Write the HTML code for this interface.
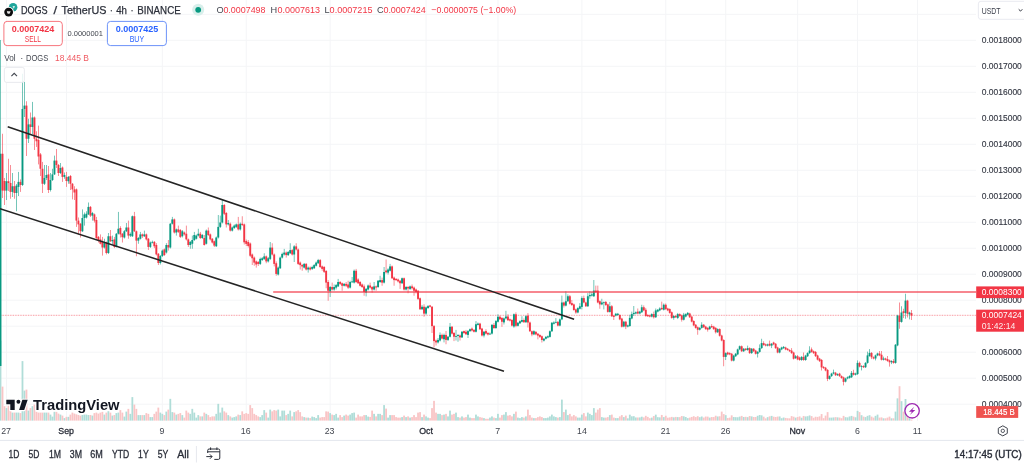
<!DOCTYPE html><html><head><meta charset="utf-8"><title>DOGS / TetherUS</title>
<style>html,body{margin:0;padding:0;background:#fff;overflow:hidden}svg{display:block;filter:blur(0.35px)}text{font-family:"Liberation Sans",sans-serif}</style></head><body>
<svg width="1024" height="466" viewBox="0 0 1024 466">
<rect width="1024" height="466" fill="#fff"/>
<g stroke="#f4f5f7" stroke-width="1">
<line x1="0" y1="14.33" x2="976" y2="14.33"/>
<line x1="0" y1="40.32" x2="976" y2="40.32"/>
<line x1="0" y1="66.31" x2="976" y2="66.31"/>
<line x1="0" y1="92.30" x2="976" y2="92.30"/>
<line x1="0" y1="118.29" x2="976" y2="118.29"/>
<line x1="0" y1="144.28" x2="976" y2="144.28"/>
<line x1="0" y1="170.27" x2="976" y2="170.27"/>
<line x1="0" y1="196.26" x2="976" y2="196.26"/>
<line x1="0" y1="222.25" x2="976" y2="222.25"/>
<line x1="0" y1="248.24" x2="976" y2="248.24"/>
<line x1="0" y1="274.23" x2="976" y2="274.23"/>
<line x1="0" y1="300.22" x2="976" y2="300.22"/>
<line x1="0" y1="326.21" x2="976" y2="326.21"/>
<line x1="0" y1="352.20" x2="976" y2="352.20"/>
<line x1="0" y1="378.19" x2="976" y2="378.19"/>
<line x1="0" y1="404.18" x2="976" y2="404.18"/>
<line x1="6.50" y1="0" x2="6.50" y2="421"/>
<line x1="66.44" y1="0" x2="66.44" y2="421"/>
<line x1="162.33" y1="0" x2="162.33" y2="421"/>
<line x1="246.24" y1="0" x2="246.24" y2="421"/>
<line x1="330.15" y1="0" x2="330.15" y2="421"/>
<line x1="426.05" y1="0" x2="426.05" y2="421"/>
<line x1="497.97" y1="0" x2="497.97" y2="421"/>
<line x1="581.88" y1="0" x2="581.88" y2="421"/>
<line x1="665.78" y1="0" x2="665.78" y2="421"/>
<line x1="725.72" y1="0" x2="725.72" y2="421"/>
<line x1="797.64" y1="0" x2="797.64" y2="421"/>
<line x1="857.58" y1="0" x2="857.58" y2="421"/>
<line x1="917.51" y1="0" x2="917.51" y2="421"/>
</g>
<g>
<rect x="-0.40" y="340.60" width="1.8" height="80.00" fill="#b0ddd8"/>
<rect x="1.60" y="386.60" width="1.8" height="34.00" fill="#f9c5c6"/>
<rect x="3.60" y="406.20" width="1.8" height="14.40" fill="#f9c5c6"/>
<rect x="5.59" y="408.10" width="1.8" height="12.50" fill="#b0ddd8"/>
<rect x="7.59" y="405.60" width="1.8" height="15.00" fill="#f9c5c6"/>
<rect x="9.59" y="411.20" width="1.8" height="9.40" fill="#f9c5c6"/>
<rect x="11.59" y="412.60" width="1.8" height="8.00" fill="#b0ddd8"/>
<rect x="13.58" y="412.60" width="1.8" height="8.00" fill="#f9c5c6"/>
<rect x="15.58" y="412.60" width="1.8" height="8.00" fill="#b0ddd8"/>
<rect x="17.58" y="412.60" width="1.8" height="8.00" fill="#b0ddd8"/>
<rect x="19.58" y="413.10" width="1.8" height="7.50" fill="#f9c5c6"/>
<rect x="21.58" y="361.10" width="1.8" height="59.50" fill="#b0ddd8"/>
<rect x="23.57" y="390.60" width="1.8" height="30.00" fill="#b0ddd8"/>
<rect x="25.57" y="389.60" width="1.8" height="31.00" fill="#f9c5c6"/>
<rect x="27.57" y="410.60" width="1.8" height="10.00" fill="#b0ddd8"/>
<rect x="29.57" y="408.10" width="1.8" height="12.50" fill="#f9c5c6"/>
<rect x="31.56" y="406.20" width="1.8" height="14.40" fill="#b0ddd8"/>
<rect x="33.56" y="404.60" width="1.8" height="16.00" fill="#f9c5c6"/>
<rect x="35.56" y="411.85" width="1.8" height="8.75" fill="#f9c5c6"/>
<rect x="37.56" y="412.60" width="1.8" height="8.00" fill="#f9c5c6"/>
<rect x="39.56" y="412.60" width="1.8" height="8.00" fill="#f9c5c6"/>
<rect x="41.55" y="412.60" width="1.8" height="8.00" fill="#f9c5c6"/>
<rect x="43.55" y="412.60" width="1.8" height="8.00" fill="#b0ddd8"/>
<rect x="45.55" y="412.60" width="1.8" height="8.00" fill="#b0ddd8"/>
<rect x="47.55" y="412.60" width="1.8" height="8.00" fill="#f9c5c6"/>
<rect x="49.55" y="414.60" width="1.8" height="6.00" fill="#b0ddd8"/>
<rect x="51.54" y="416.60" width="1.8" height="4.00" fill="#b0ddd8"/>
<rect x="53.54" y="411.85" width="1.8" height="8.75" fill="#b0ddd8"/>
<rect x="55.54" y="411.85" width="1.8" height="8.75" fill="#f9c5c6"/>
<rect x="57.54" y="413.60" width="1.8" height="7.00" fill="#f9c5c6"/>
<rect x="59.53" y="414.60" width="1.8" height="6.00" fill="#b0ddd8"/>
<rect x="61.53" y="415.60" width="1.8" height="5.00" fill="#f9c5c6"/>
<rect x="63.53" y="418.10" width="1.8" height="2.50" fill="#b0ddd8"/>
<rect x="65.53" y="416.85" width="1.8" height="3.75" fill="#f9c5c6"/>
<rect x="67.53" y="416.85" width="1.8" height="3.75" fill="#b0ddd8"/>
<rect x="69.52" y="414.60" width="1.8" height="6.00" fill="#f9c5c6"/>
<rect x="71.52" y="412.60" width="1.8" height="8.00" fill="#f9c5c6"/>
<rect x="73.52" y="413.60" width="1.8" height="7.00" fill="#f9c5c6"/>
<rect x="75.52" y="414.35" width="1.8" height="6.25" fill="#f9c5c6"/>
<rect x="77.51" y="415.00" width="1.8" height="5.60" fill="#f9c5c6"/>
<rect x="79.51" y="415.60" width="1.8" height="5.00" fill="#f9c5c6"/>
<rect x="81.51" y="415.00" width="1.8" height="5.60" fill="#b0ddd8"/>
<rect x="83.51" y="414.60" width="1.8" height="6.00" fill="#b0ddd8"/>
<rect x="85.51" y="414.60" width="1.8" height="6.00" fill="#b0ddd8"/>
<rect x="87.50" y="415.00" width="1.8" height="5.60" fill="#b0ddd8"/>
<rect x="89.50" y="415.00" width="1.8" height="5.60" fill="#f9c5c6"/>
<rect x="91.50" y="415.60" width="1.8" height="5.00" fill="#b0ddd8"/>
<rect x="93.50" y="413.10" width="1.8" height="7.50" fill="#f9c5c6"/>
<rect x="95.49" y="412.60" width="1.8" height="8.00" fill="#f9c5c6"/>
<rect x="97.49" y="413.60" width="1.8" height="7.00" fill="#f9c5c6"/>
<rect x="99.49" y="412.60" width="1.8" height="8.00" fill="#f9c5c6"/>
<rect x="101.49" y="411.85" width="1.8" height="8.75" fill="#f9c5c6"/>
<rect x="103.49" y="414.60" width="1.8" height="6.00" fill="#b0ddd8"/>
<rect x="105.48" y="412.60" width="1.8" height="8.00" fill="#f9c5c6"/>
<rect x="107.48" y="411.20" width="1.8" height="9.40" fill="#b0ddd8"/>
<rect x="109.48" y="412.60" width="1.8" height="8.00" fill="#f9c5c6"/>
<rect x="111.48" y="415.60" width="1.8" height="5.00" fill="#b0ddd8"/>
<rect x="113.47" y="415.00" width="1.8" height="5.60" fill="#f9c5c6"/>
<rect x="115.47" y="413.10" width="1.8" height="7.50" fill="#b0ddd8"/>
<rect x="117.47" y="412.60" width="1.8" height="8.00" fill="#b0ddd8"/>
<rect x="119.47" y="410.10" width="1.8" height="10.50" fill="#f9c5c6"/>
<rect x="121.47" y="412.60" width="1.8" height="8.00" fill="#f9c5c6"/>
<rect x="123.46" y="416.60" width="1.8" height="4.00" fill="#b0ddd8"/>
<rect x="125.46" y="411.60" width="1.8" height="9.00" fill="#b0ddd8"/>
<rect x="127.46" y="408.85" width="1.8" height="11.75" fill="#f9c5c6"/>
<rect x="129.46" y="413.85" width="1.8" height="6.75" fill="#b0ddd8"/>
<rect x="131.45" y="397.10" width="1.8" height="23.50" fill="#b0ddd8"/>
<rect x="133.45" y="404.60" width="1.8" height="16.00" fill="#f9c5c6"/>
<rect x="135.45" y="408.85" width="1.8" height="11.75" fill="#f9c5c6"/>
<rect x="137.45" y="415.10" width="1.8" height="5.50" fill="#b0ddd8"/>
<rect x="139.45" y="415.10" width="1.8" height="5.50" fill="#b0ddd8"/>
<rect x="141.44" y="415.10" width="1.8" height="5.50" fill="#f9c5c6"/>
<rect x="143.44" y="415.10" width="1.8" height="5.50" fill="#b0ddd8"/>
<rect x="145.44" y="413.10" width="1.8" height="7.50" fill="#f9c5c6"/>
<rect x="147.44" y="413.85" width="1.8" height="6.75" fill="#f9c5c6"/>
<rect x="149.44" y="417.10" width="1.8" height="3.50" fill="#b0ddd8"/>
<rect x="151.43" y="417.10" width="1.8" height="3.50" fill="#b0ddd8"/>
<rect x="153.43" y="413.85" width="1.8" height="6.75" fill="#f9c5c6"/>
<rect x="155.43" y="411.60" width="1.8" height="9.00" fill="#f9c5c6"/>
<rect x="157.43" y="407.60" width="1.8" height="13.00" fill="#f9c5c6"/>
<rect x="159.42" y="412.60" width="1.8" height="8.00" fill="#b0ddd8"/>
<rect x="161.42" y="413.85" width="1.8" height="6.75" fill="#b0ddd8"/>
<rect x="163.42" y="415.10" width="1.8" height="5.50" fill="#f9c5c6"/>
<rect x="165.42" y="411.60" width="1.8" height="9.00" fill="#b0ddd8"/>
<rect x="167.42" y="409.60" width="1.8" height="11.00" fill="#f9c5c6"/>
<rect x="169.41" y="398.85" width="1.8" height="21.75" fill="#b0ddd8"/>
<rect x="171.41" y="412.10" width="1.8" height="8.50" fill="#b0ddd8"/>
<rect x="173.41" y="412.60" width="1.8" height="8.00" fill="#f9c5c6"/>
<rect x="175.41" y="414.60" width="1.8" height="6.00" fill="#b0ddd8"/>
<rect x="177.40" y="413.85" width="1.8" height="6.75" fill="#f9c5c6"/>
<rect x="179.40" y="413.10" width="1.8" height="7.50" fill="#f9c5c6"/>
<rect x="181.40" y="415.10" width="1.8" height="5.50" fill="#b0ddd8"/>
<rect x="183.40" y="417.60" width="1.8" height="3.00" fill="#f9c5c6"/>
<rect x="185.40" y="410.60" width="1.8" height="10.00" fill="#f9c5c6"/>
<rect x="187.39" y="412.60" width="1.8" height="8.00" fill="#f9c5c6"/>
<rect x="189.39" y="413.85" width="1.8" height="6.75" fill="#b0ddd8"/>
<rect x="191.39" y="408.85" width="1.8" height="11.75" fill="#b0ddd8"/>
<rect x="193.39" y="412.60" width="1.8" height="8.00" fill="#b0ddd8"/>
<rect x="195.38" y="417.60" width="1.8" height="3.00" fill="#b0ddd8"/>
<rect x="197.38" y="415.10" width="1.8" height="5.50" fill="#b0ddd8"/>
<rect x="199.38" y="416.40" width="1.8" height="4.20" fill="#f9c5c6"/>
<rect x="201.38" y="416.40" width="1.8" height="4.20" fill="#b0ddd8"/>
<rect x="203.38" y="412.60" width="1.8" height="8.00" fill="#f9c5c6"/>
<rect x="205.37" y="413.85" width="1.8" height="6.75" fill="#b0ddd8"/>
<rect x="207.37" y="415.10" width="1.8" height="5.50" fill="#f9c5c6"/>
<rect x="209.37" y="417.10" width="1.8" height="3.50" fill="#f9c5c6"/>
<rect x="211.37" y="416.40" width="1.8" height="4.20" fill="#f9c5c6"/>
<rect x="213.36" y="416.40" width="1.8" height="4.20" fill="#f9c5c6"/>
<rect x="215.36" y="413.85" width="1.8" height="6.75" fill="#b0ddd8"/>
<rect x="217.36" y="403.85" width="1.8" height="16.75" fill="#b0ddd8"/>
<rect x="219.36" y="412.60" width="1.8" height="8.00" fill="#b0ddd8"/>
<rect x="221.36" y="407.60" width="1.8" height="13.00" fill="#b0ddd8"/>
<rect x="223.35" y="411.35" width="1.8" height="9.25" fill="#f9c5c6"/>
<rect x="225.35" y="412.60" width="1.8" height="8.00" fill="#f9c5c6"/>
<rect x="227.35" y="415.10" width="1.8" height="5.50" fill="#b0ddd8"/>
<rect x="229.35" y="416.40" width="1.8" height="4.20" fill="#f9c5c6"/>
<rect x="231.34" y="417.60" width="1.8" height="3.00" fill="#b0ddd8"/>
<rect x="233.34" y="417.10" width="1.8" height="3.50" fill="#b0ddd8"/>
<rect x="235.34" y="416.40" width="1.8" height="4.20" fill="#b0ddd8"/>
<rect x="237.34" y="414.60" width="1.8" height="6.00" fill="#f9c5c6"/>
<rect x="239.34" y="415.10" width="1.8" height="5.50" fill="#b0ddd8"/>
<rect x="241.33" y="411.35" width="1.8" height="9.25" fill="#f9c5c6"/>
<rect x="243.33" y="413.85" width="1.8" height="6.75" fill="#f9c5c6"/>
<rect x="245.33" y="413.10" width="1.8" height="7.50" fill="#f9c5c6"/>
<rect x="247.33" y="413.85" width="1.8" height="6.75" fill="#f9c5c6"/>
<rect x="249.32" y="405.10" width="1.8" height="15.50" fill="#f9c5c6"/>
<rect x="251.32" y="408.10" width="1.8" height="12.50" fill="#f9c5c6"/>
<rect x="253.32" y="413.85" width="1.8" height="6.75" fill="#f9c5c6"/>
<rect x="255.32" y="415.10" width="1.8" height="5.50" fill="#f9c5c6"/>
<rect x="257.32" y="416.40" width="1.8" height="4.20" fill="#f9c5c6"/>
<rect x="259.31" y="417.10" width="1.8" height="3.50" fill="#b0ddd8"/>
<rect x="261.31" y="415.10" width="1.8" height="5.50" fill="#b0ddd8"/>
<rect x="263.31" y="410.10" width="1.8" height="10.50" fill="#b0ddd8"/>
<rect x="265.31" y="412.60" width="1.8" height="8.00" fill="#f9c5c6"/>
<rect x="267.31" y="417.60" width="1.8" height="3.00" fill="#b0ddd8"/>
<rect x="269.30" y="409.60" width="1.8" height="11.00" fill="#b0ddd8"/>
<rect x="271.30" y="411.35" width="1.8" height="9.25" fill="#f9c5c6"/>
<rect x="273.30" y="410.10" width="1.8" height="10.50" fill="#f9c5c6"/>
<rect x="275.30" y="410.60" width="1.8" height="10.00" fill="#f9c5c6"/>
<rect x="277.29" y="409.60" width="1.8" height="11.00" fill="#b0ddd8"/>
<rect x="279.29" y="416.40" width="1.8" height="4.20" fill="#b0ddd8"/>
<rect x="281.29" y="410.60" width="1.8" height="10.00" fill="#b0ddd8"/>
<rect x="283.29" y="410.60" width="1.8" height="10.00" fill="#b0ddd8"/>
<rect x="285.29" y="415.10" width="1.8" height="5.50" fill="#f9c5c6"/>
<rect x="287.28" y="413.85" width="1.8" height="6.75" fill="#b0ddd8"/>
<rect x="289.28" y="410.60" width="1.8" height="10.00" fill="#b0ddd8"/>
<rect x="291.28" y="416.40" width="1.8" height="4.20" fill="#f9c5c6"/>
<rect x="293.28" y="412.10" width="1.8" height="8.50" fill="#b0ddd8"/>
<rect x="295.27" y="411.35" width="1.8" height="9.25" fill="#f9c5c6"/>
<rect x="297.27" y="410.10" width="1.8" height="10.50" fill="#f9c5c6"/>
<rect x="299.27" y="412.10" width="1.8" height="8.50" fill="#f9c5c6"/>
<rect x="301.27" y="416.40" width="1.8" height="4.20" fill="#f9c5c6"/>
<rect x="303.27" y="417.10" width="1.8" height="3.50" fill="#b0ddd8"/>
<rect x="305.26" y="417.60" width="1.8" height="3.00" fill="#f9c5c6"/>
<rect x="307.26" y="417.60" width="1.8" height="3.00" fill="#b0ddd8"/>
<rect x="309.26" y="418.10" width="1.8" height="2.50" fill="#f9c5c6"/>
<rect x="311.26" y="416.60" width="1.8" height="4.00" fill="#b0ddd8"/>
<rect x="313.25" y="417.10" width="1.8" height="3.50" fill="#b0ddd8"/>
<rect x="315.25" y="418.10" width="1.8" height="2.50" fill="#b0ddd8"/>
<rect x="317.25" y="415.10" width="1.8" height="5.50" fill="#b0ddd8"/>
<rect x="319.25" y="417.60" width="1.8" height="3.00" fill="#f9c5c6"/>
<rect x="321.25" y="417.10" width="1.8" height="3.50" fill="#f9c5c6"/>
<rect x="323.24" y="417.10" width="1.8" height="3.50" fill="#f9c5c6"/>
<rect x="325.24" y="411.35" width="1.8" height="9.25" fill="#f9c5c6"/>
<rect x="327.24" y="411.60" width="1.8" height="9.00" fill="#f9c5c6"/>
<rect x="329.24" y="413.10" width="1.8" height="7.50" fill="#b0ddd8"/>
<rect x="331.23" y="414.60" width="1.8" height="6.00" fill="#f9c5c6"/>
<rect x="333.23" y="415.10" width="1.8" height="5.50" fill="#b0ddd8"/>
<rect x="335.23" y="413.85" width="1.8" height="6.75" fill="#b0ddd8"/>
<rect x="337.23" y="417.60" width="1.8" height="3.00" fill="#b0ddd8"/>
<rect x="339.23" y="415.10" width="1.8" height="5.50" fill="#f9c5c6"/>
<rect x="341.22" y="417.10" width="1.8" height="3.50" fill="#f9c5c6"/>
<rect x="343.22" y="415.60" width="1.8" height="5.00" fill="#b0ddd8"/>
<rect x="345.22" y="414.60" width="1.8" height="6.00" fill="#f9c5c6"/>
<rect x="347.22" y="415.60" width="1.8" height="5.00" fill="#f9c5c6"/>
<rect x="349.22" y="414.60" width="1.8" height="6.00" fill="#b0ddd8"/>
<rect x="351.21" y="413.10" width="1.8" height="7.50" fill="#b0ddd8"/>
<rect x="353.21" y="412.60" width="1.8" height="8.00" fill="#b0ddd8"/>
<rect x="355.21" y="417.60" width="1.8" height="3.00" fill="#f9c5c6"/>
<rect x="357.21" y="414.60" width="1.8" height="6.00" fill="#f9c5c6"/>
<rect x="359.20" y="416.40" width="1.8" height="4.20" fill="#f9c5c6"/>
<rect x="361.20" y="416.40" width="1.8" height="4.20" fill="#f9c5c6"/>
<rect x="363.20" y="415.10" width="1.8" height="5.50" fill="#f9c5c6"/>
<rect x="365.20" y="415.10" width="1.8" height="5.50" fill="#b0ddd8"/>
<rect x="367.20" y="416.60" width="1.8" height="4.00" fill="#b0ddd8"/>
<rect x="369.19" y="416.91" width="1.8" height="3.69" fill="#f9c5c6"/>
<rect x="371.19" y="410.60" width="1.8" height="10.00" fill="#f9c5c6"/>
<rect x="373.19" y="413.85" width="1.8" height="6.75" fill="#b0ddd8"/>
<rect x="375.19" y="416.40" width="1.8" height="4.20" fill="#f9c5c6"/>
<rect x="377.18" y="413.85" width="1.8" height="6.75" fill="#b0ddd8"/>
<rect x="379.18" y="413.85" width="1.8" height="6.75" fill="#b0ddd8"/>
<rect x="381.18" y="415.10" width="1.8" height="5.50" fill="#f9c5c6"/>
<rect x="383.18" y="405.10" width="1.8" height="15.50" fill="#b0ddd8"/>
<rect x="385.18" y="408.60" width="1.8" height="12.00" fill="#f9c5c6"/>
<rect x="387.17" y="417.60" width="1.8" height="3.00" fill="#b0ddd8"/>
<rect x="389.17" y="415.10" width="1.8" height="5.50" fill="#b0ddd8"/>
<rect x="391.17" y="415.10" width="1.8" height="5.50" fill="#f9c5c6"/>
<rect x="393.17" y="415.10" width="1.8" height="5.50" fill="#f9c5c6"/>
<rect x="395.16" y="417.10" width="1.8" height="3.50" fill="#f9c5c6"/>
<rect x="397.16" y="417.60" width="1.8" height="3.00" fill="#f9c5c6"/>
<rect x="399.16" y="417.60" width="1.8" height="3.00" fill="#f9c5c6"/>
<rect x="401.16" y="417.10" width="1.8" height="3.50" fill="#b0ddd8"/>
<rect x="403.16" y="415.60" width="1.8" height="5.00" fill="#f9c5c6"/>
<rect x="405.15" y="417.10" width="1.8" height="3.50" fill="#b0ddd8"/>
<rect x="407.15" y="416.40" width="1.8" height="4.20" fill="#f9c5c6"/>
<rect x="409.15" y="417.60" width="1.8" height="3.00" fill="#b0ddd8"/>
<rect x="411.15" y="417.10" width="1.8" height="3.50" fill="#f9c5c6"/>
<rect x="413.14" y="415.10" width="1.8" height="5.50" fill="#f9c5c6"/>
<rect x="415.14" y="417.10" width="1.8" height="3.50" fill="#f9c5c6"/>
<rect x="417.14" y="412.60" width="1.8" height="8.00" fill="#f9c5c6"/>
<rect x="419.14" y="412.10" width="1.8" height="8.50" fill="#f9c5c6"/>
<rect x="421.14" y="417.10" width="1.8" height="3.50" fill="#b0ddd8"/>
<rect x="423.13" y="414.60" width="1.8" height="6.00" fill="#f9c5c6"/>
<rect x="425.13" y="416.40" width="1.8" height="4.20" fill="#b0ddd8"/>
<rect x="427.13" y="417.60" width="1.8" height="3.00" fill="#b0ddd8"/>
<rect x="429.13" y="418.10" width="1.8" height="2.50" fill="#f9c5c6"/>
<rect x="431.12" y="408.10" width="1.8" height="12.50" fill="#f9c5c6"/>
<rect x="433.12" y="400.85" width="1.8" height="19.75" fill="#f9c5c6"/>
<rect x="435.12" y="412.60" width="1.8" height="8.00" fill="#f9c5c6"/>
<rect x="437.12" y="413.85" width="1.8" height="6.75" fill="#b0ddd8"/>
<rect x="439.12" y="413.85" width="1.8" height="6.75" fill="#b0ddd8"/>
<rect x="441.11" y="415.10" width="1.8" height="5.50" fill="#f9c5c6"/>
<rect x="443.11" y="414.60" width="1.8" height="6.00" fill="#b0ddd8"/>
<rect x="445.11" y="413.85" width="1.8" height="6.75" fill="#f9c5c6"/>
<rect x="447.11" y="416.40" width="1.8" height="4.20" fill="#b0ddd8"/>
<rect x="449.11" y="410.60" width="1.8" height="10.00" fill="#b0ddd8"/>
<rect x="451.10" y="414.60" width="1.8" height="6.00" fill="#f9c5c6"/>
<rect x="453.10" y="413.85" width="1.8" height="6.75" fill="#f9c5c6"/>
<rect x="455.10" y="412.60" width="1.8" height="8.00" fill="#b0ddd8"/>
<rect x="457.10" y="417.10" width="1.8" height="3.50" fill="#b0ddd8"/>
<rect x="459.09" y="417.60" width="1.8" height="3.00" fill="#f9c5c6"/>
<rect x="461.09" y="416.40" width="1.8" height="4.20" fill="#b0ddd8"/>
<rect x="463.09" y="417.60" width="1.8" height="3.00" fill="#f9c5c6"/>
<rect x="465.09" y="417.10" width="1.8" height="3.50" fill="#f9c5c6"/>
<rect x="467.09" y="414.60" width="1.8" height="6.00" fill="#b0ddd8"/>
<rect x="469.08" y="417.60" width="1.8" height="3.00" fill="#b0ddd8"/>
<rect x="471.08" y="418.10" width="1.8" height="2.50" fill="#f9c5c6"/>
<rect x="473.08" y="418.10" width="1.8" height="2.50" fill="#f9c5c6"/>
<rect x="475.08" y="414.60" width="1.8" height="6.00" fill="#b0ddd8"/>
<rect x="477.07" y="416.40" width="1.8" height="4.20" fill="#b0ddd8"/>
<rect x="479.07" y="417.10" width="1.8" height="3.50" fill="#f9c5c6"/>
<rect x="481.07" y="417.60" width="1.8" height="3.00" fill="#f9c5c6"/>
<rect x="483.07" y="418.10" width="1.8" height="2.50" fill="#b0ddd8"/>
<rect x="485.07" y="418.80" width="1.8" height="1.80" fill="#f9c5c6"/>
<rect x="487.06" y="418.80" width="1.8" height="1.80" fill="#f9c5c6"/>
<rect x="489.06" y="417.60" width="1.8" height="3.00" fill="#b0ddd8"/>
<rect x="491.06" y="416.40" width="1.8" height="4.20" fill="#b0ddd8"/>
<rect x="493.06" y="417.60" width="1.8" height="3.00" fill="#f9c5c6"/>
<rect x="495.05" y="418.10" width="1.8" height="2.50" fill="#b0ddd8"/>
<rect x="497.05" y="413.85" width="1.8" height="6.75" fill="#b0ddd8"/>
<rect x="499.05" y="417.60" width="1.8" height="3.00" fill="#f9c5c6"/>
<rect x="501.05" y="415.10" width="1.8" height="5.50" fill="#f9c5c6"/>
<rect x="503.05" y="414.60" width="1.8" height="6.00" fill="#b0ddd8"/>
<rect x="505.04" y="412.10" width="1.8" height="8.50" fill="#b0ddd8"/>
<rect x="507.04" y="415.60" width="1.8" height="5.00" fill="#f9c5c6"/>
<rect x="509.04" y="415.10" width="1.8" height="5.50" fill="#f9c5c6"/>
<rect x="511.04" y="416.40" width="1.8" height="4.20" fill="#f9c5c6"/>
<rect x="513.03" y="413.85" width="1.8" height="6.75" fill="#b0ddd8"/>
<rect x="515.03" y="411.60" width="1.8" height="9.00" fill="#f9c5c6"/>
<rect x="517.03" y="417.60" width="1.8" height="3.00" fill="#b0ddd8"/>
<rect x="519.03" y="418.10" width="1.8" height="2.50" fill="#b0ddd8"/>
<rect x="521.03" y="417.10" width="1.8" height="3.50" fill="#b0ddd8"/>
<rect x="523.02" y="417.60" width="1.8" height="3.00" fill="#f9c5c6"/>
<rect x="525.02" y="416.40" width="1.8" height="4.20" fill="#b0ddd8"/>
<rect x="527.02" y="409.60" width="1.8" height="11.00" fill="#f9c5c6"/>
<rect x="529.02" y="415.10" width="1.8" height="5.50" fill="#f9c5c6"/>
<rect x="531.01" y="417.60" width="1.8" height="3.00" fill="#f9c5c6"/>
<rect x="533.01" y="418.10" width="1.8" height="2.50" fill="#b0ddd8"/>
<rect x="535.01" y="418.10" width="1.8" height="2.50" fill="#f9c5c6"/>
<rect x="537.01" y="417.10" width="1.8" height="3.50" fill="#f9c5c6"/>
<rect x="539.01" y="416.40" width="1.8" height="4.20" fill="#f9c5c6"/>
<rect x="541.00" y="417.10" width="1.8" height="3.50" fill="#f9c5c6"/>
<rect x="543.00" y="418.10" width="1.8" height="2.50" fill="#b0ddd8"/>
<rect x="545.00" y="418.10" width="1.8" height="2.50" fill="#b0ddd8"/>
<rect x="547.00" y="417.60" width="1.8" height="3.00" fill="#b0ddd8"/>
<rect x="549.00" y="416.40" width="1.8" height="4.20" fill="#b0ddd8"/>
<rect x="550.99" y="414.60" width="1.8" height="6.00" fill="#b0ddd8"/>
<rect x="552.99" y="416.40" width="1.8" height="4.20" fill="#b0ddd8"/>
<rect x="554.99" y="417.10" width="1.8" height="3.50" fill="#b0ddd8"/>
<rect x="556.99" y="417.60" width="1.8" height="3.00" fill="#f9c5c6"/>
<rect x="558.98" y="417.10" width="1.8" height="3.50" fill="#b0ddd8"/>
<rect x="560.98" y="399.60" width="1.8" height="21.00" fill="#b0ddd8"/>
<rect x="562.98" y="412.10" width="1.8" height="8.50" fill="#f9c5c6"/>
<rect x="564.98" y="409.60" width="1.8" height="11.00" fill="#b0ddd8"/>
<rect x="566.98" y="415.10" width="1.8" height="5.50" fill="#b0ddd8"/>
<rect x="568.97" y="413.85" width="1.8" height="6.75" fill="#f9c5c6"/>
<rect x="570.97" y="416.40" width="1.8" height="4.20" fill="#f9c5c6"/>
<rect x="572.97" y="415.10" width="1.8" height="5.50" fill="#f9c5c6"/>
<rect x="574.97" y="416.40" width="1.8" height="4.20" fill="#f9c5c6"/>
<rect x="576.96" y="417.60" width="1.8" height="3.00" fill="#b0ddd8"/>
<rect x="578.96" y="417.60" width="1.8" height="3.00" fill="#b0ddd8"/>
<rect x="580.96" y="414.60" width="1.8" height="6.00" fill="#b0ddd8"/>
<rect x="582.96" y="413.10" width="1.8" height="7.50" fill="#f9c5c6"/>
<rect x="584.96" y="416.40" width="1.8" height="4.20" fill="#f9c5c6"/>
<rect x="586.95" y="412.60" width="1.8" height="8.00" fill="#b0ddd8"/>
<rect x="588.95" y="413.85" width="1.8" height="6.75" fill="#b0ddd8"/>
<rect x="590.95" y="415.10" width="1.8" height="5.50" fill="#b0ddd8"/>
<rect x="592.95" y="408.10" width="1.8" height="12.50" fill="#b0ddd8"/>
<rect x="594.94" y="412.60" width="1.8" height="8.00" fill="#f9c5c6"/>
<rect x="596.94" y="409.60" width="1.8" height="11.00" fill="#f9c5c6"/>
<rect x="598.94" y="408.10" width="1.8" height="12.50" fill="#f9c5c6"/>
<rect x="600.94" y="417.10" width="1.8" height="3.50" fill="#b0ddd8"/>
<rect x="602.94" y="417.60" width="1.8" height="3.00" fill="#b0ddd8"/>
<rect x="604.93" y="417.60" width="1.8" height="3.00" fill="#f9c5c6"/>
<rect x="606.93" y="417.10" width="1.8" height="3.50" fill="#f9c5c6"/>
<rect x="608.93" y="415.10" width="1.8" height="5.50" fill="#b0ddd8"/>
<rect x="610.93" y="414.60" width="1.8" height="6.00" fill="#f9c5c6"/>
<rect x="612.92" y="417.60" width="1.8" height="3.00" fill="#f9c5c6"/>
<rect x="614.92" y="418.10" width="1.8" height="2.50" fill="#b0ddd8"/>
<rect x="616.92" y="418.10" width="1.8" height="2.50" fill="#b0ddd8"/>
<rect x="618.92" y="416.40" width="1.8" height="4.20" fill="#f9c5c6"/>
<rect x="620.92" y="415.10" width="1.8" height="5.50" fill="#f9c5c6"/>
<rect x="622.91" y="417.09" width="1.8" height="3.51" fill="#b0ddd8"/>
<rect x="624.91" y="415.60" width="1.8" height="5.00" fill="#f9c5c6"/>
<rect x="626.91" y="418.32" width="1.8" height="2.28" fill="#b0ddd8"/>
<rect x="628.91" y="414.67" width="1.8" height="5.93" fill="#b0ddd8"/>
<rect x="630.90" y="416.30" width="1.8" height="4.30" fill="#b0ddd8"/>
<rect x="632.90" y="416.19" width="1.8" height="4.41" fill="#b0ddd8"/>
<rect x="634.90" y="417.47" width="1.8" height="3.13" fill="#b0ddd8"/>
<rect x="636.90" y="417.49" width="1.8" height="3.11" fill="#f9c5c6"/>
<rect x="638.90" y="417.43" width="1.8" height="3.17" fill="#b0ddd8"/>
<rect x="640.89" y="416.69" width="1.8" height="3.91" fill="#b0ddd8"/>
<rect x="642.89" y="417.39" width="1.8" height="3.21" fill="#f9c5c6"/>
<rect x="644.89" y="415.82" width="1.8" height="4.78" fill="#f9c5c6"/>
<rect x="646.89" y="416.89" width="1.8" height="3.71" fill="#f9c5c6"/>
<rect x="648.88" y="418.22" width="1.8" height="2.38" fill="#f9c5c6"/>
<rect x="650.88" y="417.65" width="1.8" height="2.95" fill="#b0ddd8"/>
<rect x="652.88" y="416.04" width="1.8" height="4.56" fill="#f9c5c6"/>
<rect x="654.88" y="414.65" width="1.8" height="5.95" fill="#b0ddd8"/>
<rect x="656.88" y="417.18" width="1.8" height="3.42" fill="#b0ddd8"/>
<rect x="658.87" y="417.36" width="1.8" height="3.24" fill="#b0ddd8"/>
<rect x="660.87" y="414.93" width="1.8" height="5.67" fill="#f9c5c6"/>
<rect x="662.87" y="417.11" width="1.8" height="3.49" fill="#b0ddd8"/>
<rect x="664.87" y="415.75" width="1.8" height="4.85" fill="#f9c5c6"/>
<rect x="666.87" y="417.70" width="1.8" height="2.90" fill="#f9c5c6"/>
<rect x="668.86" y="417.41" width="1.8" height="3.19" fill="#f9c5c6"/>
<rect x="670.86" y="416.89" width="1.8" height="3.71" fill="#f9c5c6"/>
<rect x="672.86" y="417.35" width="1.8" height="3.25" fill="#b0ddd8"/>
<rect x="674.86" y="416.91" width="1.8" height="3.69" fill="#f9c5c6"/>
<rect x="676.85" y="417.10" width="1.8" height="3.50" fill="#b0ddd8"/>
<rect x="678.85" y="417.14" width="1.8" height="3.46" fill="#f9c5c6"/>
<rect x="680.85" y="415.99" width="1.8" height="4.61" fill="#f9c5c6"/>
<rect x="682.85" y="416.31" width="1.8" height="4.29" fill="#b0ddd8"/>
<rect x="684.85" y="417.03" width="1.8" height="3.57" fill="#b0ddd8"/>
<rect x="686.84" y="418.13" width="1.8" height="2.47" fill="#b0ddd8"/>
<rect x="688.84" y="417.60" width="1.8" height="3.00" fill="#f9c5c6"/>
<rect x="690.84" y="416.93" width="1.8" height="3.67" fill="#f9c5c6"/>
<rect x="692.84" y="416.21" width="1.8" height="4.39" fill="#f9c5c6"/>
<rect x="694.83" y="417.08" width="1.8" height="3.52" fill="#f9c5c6"/>
<rect x="696.83" y="416.20" width="1.8" height="4.40" fill="#f9c5c6"/>
<rect x="698.83" y="417.17" width="1.8" height="3.43" fill="#b0ddd8"/>
<rect x="700.83" y="416.50" width="1.8" height="4.10" fill="#b0ddd8"/>
<rect x="702.83" y="417.53" width="1.8" height="3.07" fill="#f9c5c6"/>
<rect x="704.82" y="416.56" width="1.8" height="4.04" fill="#f9c5c6"/>
<rect x="706.82" y="416.62" width="1.8" height="3.98" fill="#f9c5c6"/>
<rect x="708.82" y="417.61" width="1.8" height="2.99" fill="#b0ddd8"/>
<rect x="710.82" y="417.04" width="1.8" height="3.56" fill="#f9c5c6"/>
<rect x="712.81" y="417.07" width="1.8" height="3.53" fill="#f9c5c6"/>
<rect x="714.81" y="415.72" width="1.8" height="4.88" fill="#f9c5c6"/>
<rect x="716.81" y="416.50" width="1.8" height="4.10" fill="#b0ddd8"/>
<rect x="718.81" y="416.26" width="1.8" height="4.34" fill="#f9c5c6"/>
<rect x="720.81" y="411.60" width="1.8" height="9.00" fill="#f9c5c6"/>
<rect x="722.80" y="414.10" width="1.8" height="6.50" fill="#f9c5c6"/>
<rect x="724.80" y="415.13" width="1.8" height="5.47" fill="#b0ddd8"/>
<rect x="726.80" y="418.03" width="1.8" height="2.57" fill="#f9c5c6"/>
<rect x="728.80" y="417.64" width="1.8" height="2.96" fill="#f9c5c6"/>
<rect x="730.79" y="415.34" width="1.8" height="5.26" fill="#f9c5c6"/>
<rect x="732.79" y="417.03" width="1.8" height="3.57" fill="#b0ddd8"/>
<rect x="734.79" y="417.17" width="1.8" height="3.43" fill="#b0ddd8"/>
<rect x="736.79" y="417.25" width="1.8" height="3.35" fill="#b0ddd8"/>
<rect x="738.79" y="416.62" width="1.8" height="3.98" fill="#b0ddd8"/>
<rect x="740.78" y="415.90" width="1.8" height="4.70" fill="#f9c5c6"/>
<rect x="742.78" y="417.01" width="1.8" height="3.59" fill="#b0ddd8"/>
<rect x="744.78" y="416.80" width="1.8" height="3.80" fill="#f9c5c6"/>
<rect x="746.78" y="417.14" width="1.8" height="3.46" fill="#b0ddd8"/>
<rect x="748.77" y="416.00" width="1.8" height="4.60" fill="#f9c5c6"/>
<rect x="750.77" y="416.40" width="1.8" height="4.20" fill="#b0ddd8"/>
<rect x="752.77" y="417.00" width="1.8" height="3.60" fill="#f9c5c6"/>
<rect x="754.77" y="417.02" width="1.8" height="3.58" fill="#f9c5c6"/>
<rect x="756.77" y="415.78" width="1.8" height="4.82" fill="#b0ddd8"/>
<rect x="758.76" y="415.02" width="1.8" height="5.58" fill="#b0ddd8"/>
<rect x="760.76" y="415.35" width="1.8" height="5.25" fill="#b0ddd8"/>
<rect x="762.76" y="416.67" width="1.8" height="3.93" fill="#f9c5c6"/>
<rect x="764.76" y="418.34" width="1.8" height="2.26" fill="#f9c5c6"/>
<rect x="766.76" y="417.13" width="1.8" height="3.47" fill="#b0ddd8"/>
<rect x="768.75" y="416.33" width="1.8" height="4.27" fill="#f9c5c6"/>
<rect x="770.75" y="415.88" width="1.8" height="4.72" fill="#b0ddd8"/>
<rect x="772.75" y="416.69" width="1.8" height="3.91" fill="#f9c5c6"/>
<rect x="774.75" y="416.99" width="1.8" height="3.61" fill="#f9c5c6"/>
<rect x="776.74" y="416.59" width="1.8" height="4.01" fill="#f9c5c6"/>
<rect x="778.74" y="416.44" width="1.8" height="4.16" fill="#b0ddd8"/>
<rect x="780.74" y="418.21" width="1.8" height="2.39" fill="#b0ddd8"/>
<rect x="782.74" y="417.52" width="1.8" height="3.08" fill="#b0ddd8"/>
<rect x="784.74" y="417.93" width="1.8" height="2.67" fill="#f9c5c6"/>
<rect x="786.73" y="418.24" width="1.8" height="2.36" fill="#f9c5c6"/>
<rect x="788.73" y="418.35" width="1.8" height="2.25" fill="#f9c5c6"/>
<rect x="790.73" y="416.10" width="1.8" height="4.50" fill="#f9c5c6"/>
<rect x="792.73" y="416.71" width="1.8" height="3.89" fill="#f9c5c6"/>
<rect x="794.72" y="417.63" width="1.8" height="2.97" fill="#b0ddd8"/>
<rect x="796.72" y="417.00" width="1.8" height="3.60" fill="#f9c5c6"/>
<rect x="798.72" y="416.41" width="1.8" height="4.19" fill="#f9c5c6"/>
<rect x="800.72" y="417.74" width="1.8" height="2.86" fill="#b0ddd8"/>
<rect x="802.72" y="415.96" width="1.8" height="4.64" fill="#f9c5c6"/>
<rect x="804.71" y="416.46" width="1.8" height="4.14" fill="#b0ddd8"/>
<rect x="806.71" y="416.21" width="1.8" height="4.39" fill="#b0ddd8"/>
<rect x="808.71" y="415.45" width="1.8" height="5.15" fill="#b0ddd8"/>
<rect x="810.71" y="416.10" width="1.8" height="4.50" fill="#f9c5c6"/>
<rect x="812.70" y="417.75" width="1.8" height="2.85" fill="#f9c5c6"/>
<rect x="814.70" y="416.74" width="1.8" height="3.86" fill="#f9c5c6"/>
<rect x="816.70" y="416.91" width="1.8" height="3.69" fill="#f9c5c6"/>
<rect x="818.70" y="416.36" width="1.8" height="4.24" fill="#f9c5c6"/>
<rect x="820.70" y="414.06" width="1.8" height="6.54" fill="#f9c5c6"/>
<rect x="822.69" y="418.17" width="1.8" height="2.43" fill="#f9c5c6"/>
<rect x="824.69" y="415.60" width="1.8" height="5.00" fill="#f9c5c6"/>
<rect x="826.69" y="412.10" width="1.8" height="8.50" fill="#f9c5c6"/>
<rect x="828.69" y="417.65" width="1.8" height="2.95" fill="#b0ddd8"/>
<rect x="830.68" y="417.63" width="1.8" height="2.97" fill="#b0ddd8"/>
<rect x="832.68" y="417.42" width="1.8" height="3.18" fill="#b0ddd8"/>
<rect x="834.68" y="417.15" width="1.8" height="3.45" fill="#f9c5c6"/>
<rect x="836.68" y="417.37" width="1.8" height="3.23" fill="#b0ddd8"/>
<rect x="838.68" y="417.57" width="1.8" height="3.03" fill="#f9c5c6"/>
<rect x="840.67" y="418.24" width="1.8" height="2.36" fill="#f9c5c6"/>
<rect x="842.67" y="415.86" width="1.8" height="4.74" fill="#f9c5c6"/>
<rect x="844.67" y="417.19" width="1.8" height="3.41" fill="#b0ddd8"/>
<rect x="846.67" y="417.35" width="1.8" height="3.25" fill="#b0ddd8"/>
<rect x="848.67" y="416.44" width="1.8" height="4.16" fill="#b0ddd8"/>
<rect x="850.66" y="415.89" width="1.8" height="4.71" fill="#b0ddd8"/>
<rect x="852.66" y="416.60" width="1.8" height="4.00" fill="#f9c5c6"/>
<rect x="854.66" y="417.29" width="1.8" height="3.31" fill="#b0ddd8"/>
<rect x="856.66" y="410.85" width="1.8" height="9.75" fill="#b0ddd8"/>
<rect x="858.65" y="412.10" width="1.8" height="8.50" fill="#f9c5c6"/>
<rect x="860.65" y="415.20" width="1.8" height="5.40" fill="#b0ddd8"/>
<rect x="862.65" y="416.60" width="1.8" height="4.00" fill="#f9c5c6"/>
<rect x="864.65" y="417.10" width="1.8" height="3.50" fill="#b0ddd8"/>
<rect x="866.65" y="415.85" width="1.8" height="4.75" fill="#b0ddd8"/>
<rect x="868.64" y="415.20" width="1.8" height="5.40" fill="#b0ddd8"/>
<rect x="870.64" y="416.60" width="1.8" height="4.00" fill="#f9c5c6"/>
<rect x="872.64" y="417.60" width="1.8" height="3.00" fill="#f9c5c6"/>
<rect x="874.64" y="415.85" width="1.8" height="4.75" fill="#b0ddd8"/>
<rect x="876.63" y="414.60" width="1.8" height="6.00" fill="#b0ddd8"/>
<rect x="878.63" y="417.60" width="1.8" height="3.00" fill="#f9c5c6"/>
<rect x="880.63" y="417.40" width="1.8" height="3.20" fill="#f9c5c6"/>
<rect x="882.63" y="418.30" width="1.8" height="2.30" fill="#b0ddd8"/>
<rect x="884.63" y="418.30" width="1.8" height="2.30" fill="#f9c5c6"/>
<rect x="886.62" y="417.60" width="1.8" height="3.00" fill="#f9c5c6"/>
<rect x="888.62" y="416.60" width="1.8" height="4.00" fill="#f9c5c6"/>
<rect x="890.62" y="418.30" width="1.8" height="2.30" fill="#b0ddd8"/>
<rect x="892.62" y="418.30" width="1.8" height="2.30" fill="#f9c5c6"/>
<rect x="894.61" y="411.60" width="1.8" height="9.00" fill="#b0ddd8"/>
<rect x="896.61" y="398.35" width="1.8" height="22.25" fill="#b0ddd8"/>
<rect x="898.61" y="386.20" width="1.8" height="34.40" fill="#f9c5c6"/>
<rect x="900.61" y="401.20" width="1.8" height="19.40" fill="#b0ddd8"/>
<rect x="902.61" y="411.60" width="1.8" height="9.00" fill="#f9c5c6"/>
<rect x="904.60" y="399.00" width="1.8" height="21.60" fill="#b0ddd8"/>
<rect x="906.60" y="414.60" width="1.8" height="6.00" fill="#f9c5c6"/>
<rect x="908.60" y="418.10" width="1.8" height="2.50" fill="#b0ddd8"/>
<rect x="910.60" y="419.60" width="1.8" height="1.00" fill="#f9c5c6"/>
</g>
<line x1="0" y1="315.3" x2="976" y2="315.3" stroke="#f23645" stroke-width="0.8" stroke-dasharray="0.8 0.85" opacity="0.75"/>
<g>
<rect x="0.10" y="40.00" width="0.8" height="326.00" fill="#089981" opacity="0.7"/>
<rect x="-0.45" y="153.75" width="1.9" height="212.25" fill="#089981"/>
<rect x="2.10" y="133.75" width="0.8" height="64.25" fill="#f23645" opacity="0.7"/>
<rect x="1.55" y="153.75" width="1.9" height="36.85" fill="#f23645"/>
<rect x="4.10" y="178.00" width="0.8" height="27.00" fill="#f23645" opacity="0.7"/>
<rect x="3.55" y="181.00" width="1.9" height="9.60" fill="#f23645"/>
<rect x="6.09" y="173.00" width="0.8" height="27.00" fill="#089981" opacity="0.7"/>
<rect x="5.54" y="181.25" width="1.9" height="9.35" fill="#089981"/>
<rect x="8.09" y="158.75" width="0.8" height="32.25" fill="#f23645" opacity="0.7"/>
<rect x="7.54" y="181.25" width="1.9" height="1.75" fill="#f23645"/>
<rect x="10.09" y="165.00" width="0.8" height="33.75" fill="#f23645" opacity="0.7"/>
<rect x="9.54" y="183.00" width="1.9" height="8.90" fill="#f23645"/>
<rect x="12.09" y="173.00" width="0.8" height="24.00" fill="#089981" opacity="0.7"/>
<rect x="11.54" y="186.25" width="1.9" height="5.65" fill="#089981"/>
<rect x="14.08" y="181.00" width="0.8" height="17.75" fill="#f23645" opacity="0.7"/>
<rect x="13.53" y="186.25" width="1.9" height="6.75" fill="#f23645"/>
<rect x="16.08" y="184.00" width="0.8" height="27.25" fill="#089981" opacity="0.7"/>
<rect x="15.53" y="185.60" width="1.9" height="7.40" fill="#089981"/>
<rect x="18.08" y="171.90" width="0.8" height="24.10" fill="#089981" opacity="0.7"/>
<rect x="17.53" y="181.90" width="1.9" height="5.00" fill="#089981"/>
<rect x="20.08" y="179.40" width="0.8" height="12.50" fill="#f23645" opacity="0.7"/>
<rect x="19.53" y="181.90" width="1.9" height="3.10" fill="#f23645"/>
<rect x="22.08" y="73.75" width="0.8" height="112.25" fill="#089981" opacity="0.7"/>
<rect x="21.53" y="109.00" width="1.9" height="76.00" fill="#089981"/>
<rect x="24.07" y="81.90" width="0.8" height="35.10" fill="#089981" opacity="0.7"/>
<rect x="23.52" y="105.60" width="1.9" height="3.40" fill="#089981"/>
<rect x="26.07" y="101.25" width="0.8" height="54.75" fill="#f23645" opacity="0.7"/>
<rect x="25.52" y="105.60" width="1.9" height="33.15" fill="#f23645"/>
<rect x="28.07" y="118.75" width="0.8" height="24.25" fill="#089981" opacity="0.7"/>
<rect x="27.52" y="124.40" width="1.9" height="14.35" fill="#089981"/>
<rect x="30.07" y="112.50" width="0.8" height="21.25" fill="#f23645" opacity="0.7"/>
<rect x="29.52" y="124.40" width="1.9" height="2.60" fill="#f23645"/>
<rect x="32.06" y="101.90" width="0.8" height="32.10" fill="#089981" opacity="0.7"/>
<rect x="31.51" y="117.50" width="1.9" height="9.50" fill="#089981"/>
<rect x="34.06" y="116.50" width="0.8" height="33.50" fill="#f23645" opacity="0.7"/>
<rect x="33.51" y="117.50" width="1.9" height="21.25" fill="#f23645"/>
<rect x="36.06" y="131.25" width="0.8" height="15.65" fill="#f23645" opacity="0.7"/>
<rect x="35.51" y="138.75" width="1.9" height="2.50" fill="#f23645"/>
<rect x="38.06" y="125.60" width="0.8" height="38.80" fill="#f23645" opacity="0.7"/>
<rect x="37.51" y="140.00" width="1.9" height="16.50" fill="#f23645"/>
<rect x="40.06" y="153.00" width="0.8" height="23.00" fill="#f23645" opacity="0.7"/>
<rect x="39.51" y="154.40" width="1.9" height="14.35" fill="#f23645"/>
<rect x="42.05" y="161.90" width="0.8" height="31.10" fill="#f23645" opacity="0.7"/>
<rect x="41.50" y="168.75" width="1.9" height="15.00" fill="#f23645"/>
<rect x="44.05" y="165.00" width="0.8" height="20.00" fill="#089981" opacity="0.7"/>
<rect x="43.50" y="178.00" width="1.9" height="5.75" fill="#089981"/>
<rect x="46.05" y="165.00" width="0.8" height="15.00" fill="#089981" opacity="0.7"/>
<rect x="45.50" y="175.00" width="1.9" height="3.00" fill="#089981"/>
<rect x="48.05" y="166.00" width="0.8" height="27.00" fill="#f23645" opacity="0.7"/>
<rect x="47.50" y="174.40" width="1.9" height="15.60" fill="#f23645"/>
<rect x="50.05" y="173.00" width="0.8" height="18.50" fill="#089981" opacity="0.7"/>
<rect x="49.49" y="180.00" width="1.9" height="10.00" fill="#089981"/>
<rect x="52.04" y="168.75" width="0.8" height="12.25" fill="#089981" opacity="0.7"/>
<rect x="51.49" y="174.40" width="1.9" height="5.60" fill="#089981"/>
<rect x="54.04" y="155.60" width="0.8" height="19.40" fill="#089981" opacity="0.7"/>
<rect x="53.49" y="160.60" width="1.9" height="13.80" fill="#089981"/>
<rect x="56.04" y="149.00" width="0.8" height="19.00" fill="#f23645" opacity="0.7"/>
<rect x="55.49" y="160.60" width="1.9" height="4.40" fill="#f23645"/>
<rect x="58.04" y="164.00" width="0.8" height="12.00" fill="#f23645" opacity="0.7"/>
<rect x="57.49" y="165.00" width="1.9" height="8.00" fill="#f23645"/>
<rect x="60.03" y="163.00" width="0.8" height="11.00" fill="#089981" opacity="0.7"/>
<rect x="59.48" y="168.00" width="1.9" height="5.00" fill="#089981"/>
<rect x="62.03" y="166.50" width="0.8" height="15.40" fill="#f23645" opacity="0.7"/>
<rect x="61.48" y="167.50" width="1.9" height="9.40" fill="#f23645"/>
<rect x="64.03" y="172.50" width="0.8" height="6.25" fill="#089981" opacity="0.7"/>
<rect x="63.48" y="175.00" width="1.9" height="1.90" fill="#089981"/>
<rect x="66.03" y="171.90" width="0.8" height="15.00" fill="#f23645" opacity="0.7"/>
<rect x="65.48" y="176.90" width="1.9" height="4.10" fill="#f23645"/>
<rect x="68.03" y="176.00" width="0.8" height="7.75" fill="#089981" opacity="0.7"/>
<rect x="67.48" y="176.90" width="1.9" height="4.35" fill="#089981"/>
<rect x="70.02" y="175.00" width="0.8" height="15.00" fill="#f23645" opacity="0.7"/>
<rect x="69.47" y="176.00" width="1.9" height="7.75" fill="#f23645"/>
<rect x="72.02" y="183.00" width="0.8" height="16.40" fill="#f23645" opacity="0.7"/>
<rect x="71.47" y="183.75" width="1.9" height="5.65" fill="#f23645"/>
<rect x="74.02" y="186.25" width="0.8" height="13.75" fill="#f23645" opacity="0.7"/>
<rect x="73.47" y="189.40" width="1.9" height="3.10" fill="#f23645"/>
<rect x="76.02" y="188.50" width="0.8" height="38.40" fill="#f23645" opacity="0.7"/>
<rect x="75.47" y="189.40" width="1.9" height="31.20" fill="#f23645"/>
<rect x="78.01" y="217.50" width="0.8" height="16.90" fill="#f23645" opacity="0.7"/>
<rect x="77.46" y="220.60" width="1.9" height="3.80" fill="#f23645"/>
<rect x="80.01" y="223.00" width="0.8" height="14.50" fill="#f23645" opacity="0.7"/>
<rect x="79.46" y="223.75" width="1.9" height="7.50" fill="#f23645"/>
<rect x="82.01" y="209.40" width="0.8" height="22.60" fill="#089981" opacity="0.7"/>
<rect x="81.46" y="218.00" width="1.9" height="13.25" fill="#089981"/>
<rect x="84.01" y="212.50" width="0.8" height="13.10" fill="#089981" opacity="0.7"/>
<rect x="83.46" y="214.40" width="1.9" height="3.60" fill="#089981"/>
<rect x="86.01" y="211.25" width="0.8" height="7.25" fill="#089981" opacity="0.7"/>
<rect x="85.46" y="213.75" width="1.9" height="3.75" fill="#089981"/>
<rect x="88.00" y="202.50" width="0.8" height="12.50" fill="#089981" opacity="0.7"/>
<rect x="87.45" y="206.90" width="1.9" height="7.50" fill="#089981"/>
<rect x="90.00" y="206.00" width="0.8" height="11.00" fill="#f23645" opacity="0.7"/>
<rect x="89.45" y="206.90" width="1.9" height="8.70" fill="#f23645"/>
<rect x="92.00" y="211.90" width="0.8" height="8.70" fill="#089981" opacity="0.7"/>
<rect x="91.45" y="213.00" width="1.9" height="2.60" fill="#089981"/>
<rect x="94.00" y="213.50" width="0.8" height="9.00" fill="#f23645" opacity="0.7"/>
<rect x="93.45" y="214.40" width="1.9" height="6.20" fill="#f23645"/>
<rect x="95.99" y="216.90" width="0.8" height="22.10" fill="#f23645" opacity="0.7"/>
<rect x="95.44" y="220.00" width="1.9" height="18.00" fill="#f23645"/>
<rect x="97.99" y="236.00" width="0.8" height="6.50" fill="#f23645" opacity="0.7"/>
<rect x="97.44" y="236.90" width="1.9" height="3.70" fill="#f23645"/>
<rect x="99.99" y="234.40" width="0.8" height="10.00" fill="#f23645" opacity="0.7"/>
<rect x="99.44" y="239.40" width="1.9" height="4.35" fill="#f23645"/>
<rect x="101.99" y="236.90" width="0.8" height="18.70" fill="#f23645" opacity="0.7"/>
<rect x="101.44" y="241.90" width="1.9" height="5.60" fill="#f23645"/>
<rect x="103.99" y="238.75" width="0.8" height="9.75" fill="#089981" opacity="0.7"/>
<rect x="103.44" y="242.50" width="1.9" height="5.00" fill="#089981"/>
<rect x="105.98" y="241.50" width="0.8" height="12.90" fill="#f23645" opacity="0.7"/>
<rect x="105.43" y="242.50" width="1.9" height="10.50" fill="#f23645"/>
<rect x="107.98" y="233.00" width="0.8" height="21.00" fill="#089981" opacity="0.7"/>
<rect x="107.43" y="236.25" width="1.9" height="16.75" fill="#089981"/>
<rect x="109.98" y="230.00" width="0.8" height="12.00" fill="#f23645" opacity="0.7"/>
<rect x="109.43" y="236.25" width="1.9" height="5.00" fill="#f23645"/>
<rect x="111.98" y="235.60" width="0.8" height="8.80" fill="#089981" opacity="0.7"/>
<rect x="111.43" y="240.00" width="1.9" height="1.25" fill="#089981"/>
<rect x="113.97" y="236.90" width="0.8" height="11.20" fill="#f23645" opacity="0.7"/>
<rect x="113.42" y="239.40" width="1.9" height="7.50" fill="#f23645"/>
<rect x="115.97" y="233.00" width="0.8" height="14.50" fill="#089981" opacity="0.7"/>
<rect x="115.42" y="233.75" width="1.9" height="13.15" fill="#089981"/>
<rect x="117.97" y="211.90" width="0.8" height="22.60" fill="#089981" opacity="0.7"/>
<rect x="117.42" y="228.75" width="1.9" height="5.00" fill="#089981"/>
<rect x="119.97" y="226.25" width="0.8" height="11.25" fill="#f23645" opacity="0.7"/>
<rect x="119.42" y="228.00" width="1.9" height="6.40" fill="#f23645"/>
<rect x="121.97" y="233.00" width="0.8" height="9.50" fill="#f23645" opacity="0.7"/>
<rect x="121.42" y="233.75" width="1.9" height="3.45" fill="#f23645"/>
<rect x="123.96" y="230.00" width="0.8" height="8.50" fill="#089981" opacity="0.7"/>
<rect x="123.41" y="231.25" width="1.9" height="6.25" fill="#089981"/>
<rect x="125.96" y="223.00" width="0.8" height="9.00" fill="#089981" opacity="0.7"/>
<rect x="125.41" y="227.50" width="1.9" height="3.75" fill="#089981"/>
<rect x="127.96" y="220.60" width="0.8" height="18.15" fill="#f23645" opacity="0.7"/>
<rect x="127.41" y="227.50" width="1.9" height="8.10" fill="#f23645"/>
<rect x="129.96" y="232.50" width="0.8" height="4.50" fill="#089981" opacity="0.7"/>
<rect x="129.41" y="234.00" width="1.9" height="1.60" fill="#089981"/>
<rect x="131.95" y="215.50" width="0.8" height="21.50" fill="#089981" opacity="0.7"/>
<rect x="131.40" y="216.25" width="1.9" height="20.00" fill="#089981"/>
<rect x="133.95" y="211.90" width="0.8" height="20.10" fill="#f23645" opacity="0.7"/>
<rect x="133.40" y="216.25" width="1.9" height="15.00" fill="#f23645"/>
<rect x="135.95" y="230.50" width="0.8" height="25.75" fill="#f23645" opacity="0.7"/>
<rect x="135.40" y="231.25" width="1.9" height="9.35" fill="#f23645"/>
<rect x="137.95" y="237.00" width="0.8" height="6.75" fill="#089981" opacity="0.7"/>
<rect x="137.40" y="238.00" width="1.9" height="2.60" fill="#089981"/>
<rect x="139.95" y="231.90" width="0.8" height="7.60" fill="#089981" opacity="0.7"/>
<rect x="139.40" y="234.40" width="1.9" height="4.35" fill="#089981"/>
<rect x="141.94" y="233.50" width="0.8" height="4.50" fill="#f23645" opacity="0.7"/>
<rect x="141.39" y="234.40" width="1.9" height="1.85" fill="#f23645"/>
<rect x="143.94" y="230.60" width="0.8" height="6.40" fill="#089981" opacity="0.7"/>
<rect x="143.39" y="234.40" width="1.9" height="1.85" fill="#089981"/>
<rect x="145.94" y="233.50" width="0.8" height="7.00" fill="#f23645" opacity="0.7"/>
<rect x="145.39" y="234.40" width="1.9" height="5.00" fill="#f23645"/>
<rect x="147.94" y="238.00" width="0.8" height="12.00" fill="#f23645" opacity="0.7"/>
<rect x="147.39" y="238.75" width="1.9" height="8.15" fill="#f23645"/>
<rect x="149.94" y="241.50" width="0.8" height="6.50" fill="#089981" opacity="0.7"/>
<rect x="149.39" y="242.50" width="1.9" height="4.40" fill="#089981"/>
<rect x="151.93" y="240.60" width="0.8" height="2.90" fill="#089981" opacity="0.7"/>
<rect x="151.38" y="241.90" width="1.9" height="0.80" fill="#089981"/>
<rect x="153.93" y="241.00" width="0.8" height="7.10" fill="#f23645" opacity="0.7"/>
<rect x="153.38" y="241.90" width="1.9" height="4.35" fill="#f23645"/>
<rect x="155.93" y="243.10" width="0.8" height="12.40" fill="#f23645" opacity="0.7"/>
<rect x="155.38" y="245.00" width="1.9" height="9.40" fill="#f23645"/>
<rect x="157.93" y="253.00" width="0.8" height="12.00" fill="#f23645" opacity="0.7"/>
<rect x="157.38" y="253.75" width="1.9" height="9.25" fill="#f23645"/>
<rect x="159.92" y="255.00" width="0.8" height="9.50" fill="#089981" opacity="0.7"/>
<rect x="159.37" y="256.00" width="1.9" height="7.00" fill="#089981"/>
<rect x="161.92" y="249.50" width="0.8" height="7.50" fill="#089981" opacity="0.7"/>
<rect x="161.37" y="250.60" width="1.9" height="5.40" fill="#089981"/>
<rect x="163.92" y="248.50" width="0.8" height="7.50" fill="#f23645" opacity="0.7"/>
<rect x="163.37" y="249.40" width="1.9" height="5.60" fill="#f23645"/>
<rect x="165.92" y="243.10" width="0.8" height="10.40" fill="#089981" opacity="0.7"/>
<rect x="165.37" y="245.00" width="1.9" height="7.50" fill="#089981"/>
<rect x="167.92" y="240.00" width="0.8" height="10.60" fill="#f23645" opacity="0.7"/>
<rect x="167.37" y="245.00" width="1.9" height="2.50" fill="#f23645"/>
<rect x="169.91" y="223.00" width="0.8" height="25.50" fill="#089981" opacity="0.7"/>
<rect x="169.36" y="223.75" width="1.9" height="23.75" fill="#089981"/>
<rect x="171.91" y="216.90" width="0.8" height="7.60" fill="#089981" opacity="0.7"/>
<rect x="171.36" y="219.40" width="1.9" height="4.35" fill="#089981"/>
<rect x="173.91" y="218.50" width="0.8" height="15.00" fill="#f23645" opacity="0.7"/>
<rect x="173.36" y="219.40" width="1.9" height="13.10" fill="#f23645"/>
<rect x="175.91" y="228.50" width="0.8" height="7.10" fill="#089981" opacity="0.7"/>
<rect x="175.36" y="229.40" width="1.9" height="3.10" fill="#089981"/>
<rect x="177.90" y="225.60" width="0.8" height="7.40" fill="#f23645" opacity="0.7"/>
<rect x="177.35" y="229.40" width="1.9" height="2.50" fill="#f23645"/>
<rect x="179.90" y="229.00" width="0.8" height="9.00" fill="#f23645" opacity="0.7"/>
<rect x="179.35" y="230.00" width="1.9" height="6.90" fill="#f23645"/>
<rect x="181.90" y="230.00" width="0.8" height="7.50" fill="#089981" opacity="0.7"/>
<rect x="181.35" y="231.25" width="1.9" height="5.00" fill="#089981"/>
<rect x="183.90" y="231.50" width="0.8" height="4.00" fill="#f23645" opacity="0.7"/>
<rect x="183.35" y="232.50" width="1.9" height="1.90" fill="#f23645"/>
<rect x="185.90" y="225.60" width="0.8" height="14.90" fill="#f23645" opacity="0.7"/>
<rect x="185.35" y="233.75" width="1.9" height="5.65" fill="#f23645"/>
<rect x="187.89" y="238.50" width="0.8" height="8.40" fill="#f23645" opacity="0.7"/>
<rect x="187.34" y="239.40" width="1.9" height="5.60" fill="#f23645"/>
<rect x="189.89" y="241.00" width="0.8" height="7.75" fill="#089981" opacity="0.7"/>
<rect x="189.34" y="241.90" width="1.9" height="3.10" fill="#089981"/>
<rect x="191.89" y="235.60" width="0.8" height="13.15" fill="#089981" opacity="0.7"/>
<rect x="191.34" y="240.00" width="1.9" height="3.75" fill="#089981"/>
<rect x="193.89" y="231.90" width="0.8" height="9.10" fill="#089981" opacity="0.7"/>
<rect x="193.34" y="235.00" width="1.9" height="5.00" fill="#089981"/>
<rect x="195.88" y="234.50" width="0.8" height="5.00" fill="#089981" opacity="0.7"/>
<rect x="195.33" y="235.60" width="1.9" height="3.15" fill="#089981"/>
<rect x="197.88" y="228.75" width="0.8" height="7.75" fill="#089981" opacity="0.7"/>
<rect x="197.33" y="233.75" width="1.9" height="1.85" fill="#089981"/>
<rect x="199.88" y="231.90" width="0.8" height="7.10" fill="#f23645" opacity="0.7"/>
<rect x="199.33" y="233.75" width="1.9" height="4.25" fill="#f23645"/>
<rect x="201.88" y="234.00" width="0.8" height="5.00" fill="#089981" opacity="0.7"/>
<rect x="201.33" y="235.00" width="1.9" height="3.00" fill="#089981"/>
<rect x="203.88" y="235.00" width="0.8" height="10.60" fill="#f23645" opacity="0.7"/>
<rect x="203.33" y="238.00" width="1.9" height="7.00" fill="#f23645"/>
<rect x="205.87" y="229.50" width="0.8" height="15.00" fill="#089981" opacity="0.7"/>
<rect x="205.32" y="230.60" width="1.9" height="13.15" fill="#089981"/>
<rect x="207.87" y="227.50" width="0.8" height="8.50" fill="#f23645" opacity="0.7"/>
<rect x="207.32" y="230.60" width="1.9" height="4.40" fill="#f23645"/>
<rect x="209.87" y="233.50" width="0.8" height="7.00" fill="#f23645" opacity="0.7"/>
<rect x="209.32" y="234.40" width="1.9" height="5.00" fill="#f23645"/>
<rect x="211.87" y="238.00" width="0.8" height="5.50" fill="#f23645" opacity="0.7"/>
<rect x="211.32" y="238.75" width="1.9" height="3.75" fill="#f23645"/>
<rect x="213.86" y="240.50" width="0.8" height="6.50" fill="#f23645" opacity="0.7"/>
<rect x="213.31" y="241.25" width="1.9" height="4.35" fill="#f23645"/>
<rect x="215.86" y="236.50" width="0.8" height="10.50" fill="#089981" opacity="0.7"/>
<rect x="215.31" y="237.50" width="1.9" height="8.75" fill="#089981"/>
<rect x="217.86" y="215.00" width="0.8" height="23.50" fill="#089981" opacity="0.7"/>
<rect x="217.31" y="226.90" width="1.9" height="10.60" fill="#089981"/>
<rect x="219.86" y="215.60" width="0.8" height="12.40" fill="#089981" opacity="0.7"/>
<rect x="219.31" y="222.50" width="1.9" height="4.40" fill="#089981"/>
<rect x="221.86" y="200.00" width="0.8" height="23.50" fill="#089981" opacity="0.7"/>
<rect x="221.31" y="205.00" width="1.9" height="17.50" fill="#089981"/>
<rect x="223.85" y="204.00" width="0.8" height="11.00" fill="#f23645" opacity="0.7"/>
<rect x="223.30" y="205.00" width="1.9" height="8.75" fill="#f23645"/>
<rect x="225.85" y="212.00" width="0.8" height="15.50" fill="#f23645" opacity="0.7"/>
<rect x="225.30" y="213.00" width="1.9" height="11.40" fill="#f23645"/>
<rect x="227.85" y="220.00" width="0.8" height="5.50" fill="#089981" opacity="0.7"/>
<rect x="227.30" y="223.00" width="1.9" height="1.40" fill="#089981"/>
<rect x="229.85" y="222.50" width="0.8" height="9.00" fill="#f23645" opacity="0.7"/>
<rect x="229.30" y="223.75" width="1.9" height="6.85" fill="#f23645"/>
<rect x="231.84" y="226.50" width="0.8" height="5.00" fill="#089981" opacity="0.7"/>
<rect x="231.29" y="227.50" width="1.9" height="3.10" fill="#089981"/>
<rect x="233.84" y="224.50" width="0.8" height="4.50" fill="#089981" opacity="0.7"/>
<rect x="233.29" y="225.60" width="1.9" height="2.40" fill="#089981"/>
<rect x="235.84" y="223.50" width="0.8" height="4.50" fill="#089981" opacity="0.7"/>
<rect x="235.29" y="224.40" width="1.9" height="2.50" fill="#089981"/>
<rect x="237.84" y="216.90" width="0.8" height="13.60" fill="#f23645" opacity="0.7"/>
<rect x="237.29" y="224.40" width="1.9" height="5.00" fill="#f23645"/>
<rect x="239.84" y="222.50" width="0.8" height="8.00" fill="#089981" opacity="0.7"/>
<rect x="239.29" y="223.75" width="1.9" height="5.65" fill="#089981"/>
<rect x="241.83" y="216.25" width="0.8" height="9.75" fill="#f23645" opacity="0.7"/>
<rect x="241.28" y="223.75" width="1.9" height="1.25" fill="#f23645"/>
<rect x="243.83" y="223.50" width="0.8" height="21.00" fill="#f23645" opacity="0.7"/>
<rect x="243.28" y="224.40" width="1.9" height="17.90" fill="#f23645"/>
<rect x="245.83" y="239.50" width="0.8" height="6.50" fill="#f23645" opacity="0.7"/>
<rect x="245.28" y="241.00" width="1.9" height="2.90" fill="#f23645"/>
<rect x="247.83" y="240.00" width="0.8" height="7.50" fill="#f23645" opacity="0.7"/>
<rect x="247.28" y="242.00" width="1.9" height="4.00" fill="#f23645"/>
<rect x="249.82" y="242.50" width="0.8" height="14.50" fill="#f23645" opacity="0.7"/>
<rect x="249.28" y="243.50" width="1.9" height="12.25" fill="#f23645"/>
<rect x="251.82" y="253.50" width="0.8" height="11.50" fill="#f23645" opacity="0.7"/>
<rect x="251.27" y="254.50" width="1.9" height="3.75" fill="#f23645"/>
<rect x="253.82" y="256.50" width="0.8" height="9.25" fill="#f23645" opacity="0.7"/>
<rect x="253.27" y="257.60" width="1.9" height="5.00" fill="#f23645"/>
<rect x="255.82" y="260.50" width="0.8" height="7.10" fill="#f23645" opacity="0.7"/>
<rect x="255.27" y="261.40" width="1.9" height="3.10" fill="#f23645"/>
<rect x="257.82" y="261.00" width="0.8" height="5.00" fill="#f23645" opacity="0.7"/>
<rect x="257.27" y="262.00" width="1.9" height="2.00" fill="#f23645"/>
<rect x="259.81" y="257.60" width="0.8" height="7.40" fill="#089981" opacity="0.7"/>
<rect x="259.26" y="258.90" width="1.9" height="5.00" fill="#089981"/>
<rect x="261.81" y="257.00" width="0.8" height="4.00" fill="#089981" opacity="0.7"/>
<rect x="261.26" y="258.25" width="1.9" height="1.75" fill="#089981"/>
<rect x="263.81" y="253.25" width="0.8" height="6.75" fill="#089981" opacity="0.7"/>
<rect x="263.26" y="256.40" width="1.9" height="2.50" fill="#089981"/>
<rect x="265.81" y="255.50" width="0.8" height="7.75" fill="#f23645" opacity="0.7"/>
<rect x="265.26" y="256.40" width="1.9" height="5.00" fill="#f23645"/>
<rect x="267.81" y="257.00" width="0.8" height="5.50" fill="#089981" opacity="0.7"/>
<rect x="267.26" y="258.25" width="1.9" height="3.15" fill="#089981"/>
<rect x="269.80" y="242.00" width="0.8" height="18.00" fill="#089981" opacity="0.7"/>
<rect x="269.25" y="247.60" width="1.9" height="11.30" fill="#089981"/>
<rect x="271.80" y="243.25" width="0.8" height="12.25" fill="#f23645" opacity="0.7"/>
<rect x="271.25" y="247.60" width="1.9" height="6.90" fill="#f23645"/>
<rect x="273.80" y="253.50" width="0.8" height="12.90" fill="#f23645" opacity="0.7"/>
<rect x="273.25" y="254.50" width="1.9" height="9.40" fill="#f23645"/>
<rect x="275.80" y="261.40" width="0.8" height="14.35" fill="#f23645" opacity="0.7"/>
<rect x="275.25" y="263.25" width="1.9" height="10.65" fill="#f23645"/>
<rect x="277.79" y="266.50" width="0.8" height="9.00" fill="#089981" opacity="0.7"/>
<rect x="277.24" y="267.60" width="1.9" height="6.90" fill="#089981"/>
<rect x="279.79" y="256.50" width="0.8" height="12.50" fill="#089981" opacity="0.7"/>
<rect x="279.24" y="257.60" width="1.9" height="10.65" fill="#089981"/>
<rect x="281.79" y="252.60" width="0.8" height="5.90" fill="#089981" opacity="0.7"/>
<rect x="281.24" y="253.90" width="1.9" height="3.70" fill="#089981"/>
<rect x="283.79" y="248.90" width="0.8" height="6.60" fill="#089981" opacity="0.7"/>
<rect x="283.24" y="252.60" width="1.9" height="1.90" fill="#089981"/>
<rect x="285.79" y="251.50" width="0.8" height="6.10" fill="#f23645" opacity="0.7"/>
<rect x="285.24" y="252.60" width="1.9" height="2.50" fill="#f23645"/>
<rect x="287.78" y="251.00" width="0.8" height="5.00" fill="#089981" opacity="0.7"/>
<rect x="287.23" y="252.00" width="1.9" height="3.10" fill="#089981"/>
<rect x="289.78" y="243.25" width="0.8" height="10.75" fill="#089981" opacity="0.7"/>
<rect x="289.23" y="250.10" width="1.9" height="3.15" fill="#089981"/>
<rect x="291.78" y="249.00" width="0.8" height="6.50" fill="#f23645" opacity="0.7"/>
<rect x="291.23" y="250.10" width="1.9" height="4.40" fill="#f23645"/>
<rect x="293.78" y="245.10" width="0.8" height="16.90" fill="#089981" opacity="0.7"/>
<rect x="293.23" y="246.40" width="1.9" height="8.10" fill="#089981"/>
<rect x="295.77" y="243.25" width="0.8" height="7.25" fill="#f23645" opacity="0.7"/>
<rect x="295.22" y="246.40" width="1.9" height="3.10" fill="#f23645"/>
<rect x="297.77" y="248.50" width="0.8" height="16.50" fill="#f23645" opacity="0.7"/>
<rect x="297.22" y="249.50" width="1.9" height="14.40" fill="#f23645"/>
<rect x="299.77" y="261.50" width="0.8" height="8.00" fill="#f23645" opacity="0.7"/>
<rect x="299.22" y="262.60" width="1.9" height="2.50" fill="#f23645"/>
<rect x="301.77" y="264.00" width="0.8" height="6.75" fill="#f23645" opacity="0.7"/>
<rect x="301.22" y="265.00" width="1.9" height="1.50" fill="#f23645"/>
<rect x="303.77" y="263.00" width="0.8" height="5.50" fill="#089981" opacity="0.7"/>
<rect x="303.22" y="263.90" width="1.9" height="3.70" fill="#089981"/>
<rect x="305.76" y="263.00" width="0.8" height="7.50" fill="#f23645" opacity="0.7"/>
<rect x="305.21" y="263.90" width="1.9" height="5.60" fill="#f23645"/>
<rect x="307.76" y="266.50" width="0.8" height="6.10" fill="#089981" opacity="0.7"/>
<rect x="307.21" y="267.60" width="1.9" height="1.90" fill="#089981"/>
<rect x="309.76" y="266.50" width="0.8" height="4.00" fill="#f23645" opacity="0.7"/>
<rect x="309.21" y="267.60" width="1.9" height="1.90" fill="#f23645"/>
<rect x="311.76" y="265.75" width="0.8" height="4.25" fill="#089981" opacity="0.7"/>
<rect x="311.21" y="267.00" width="1.9" height="1.90" fill="#089981"/>
<rect x="313.75" y="264.00" width="0.8" height="5.00" fill="#089981" opacity="0.7"/>
<rect x="313.20" y="265.10" width="1.9" height="3.15" fill="#089981"/>
<rect x="315.75" y="261.50" width="0.8" height="5.00" fill="#089981" opacity="0.7"/>
<rect x="315.20" y="262.60" width="1.9" height="3.15" fill="#089981"/>
<rect x="317.75" y="258.90" width="0.8" height="5.10" fill="#089981" opacity="0.7"/>
<rect x="317.20" y="260.10" width="1.9" height="3.15" fill="#089981"/>
<rect x="319.75" y="259.00" width="0.8" height="9.00" fill="#f23645" opacity="0.7"/>
<rect x="319.20" y="260.10" width="1.9" height="6.90" fill="#f23645"/>
<rect x="321.75" y="265.50" width="0.8" height="5.25" fill="#f23645" opacity="0.7"/>
<rect x="321.20" y="266.40" width="1.9" height="2.50" fill="#f23645"/>
<rect x="323.74" y="266.00" width="0.8" height="7.00" fill="#f23645" opacity="0.7"/>
<rect x="323.19" y="267.00" width="1.9" height="4.80" fill="#f23645"/>
<rect x="325.74" y="270.00" width="0.8" height="18.25" fill="#f23645" opacity="0.7"/>
<rect x="325.19" y="271.00" width="1.9" height="11.60" fill="#f23645"/>
<rect x="327.74" y="280.10" width="0.8" height="20.65" fill="#f23645" opacity="0.7"/>
<rect x="327.19" y="282.00" width="1.9" height="8.75" fill="#f23645"/>
<rect x="329.74" y="286.00" width="0.8" height="11.00" fill="#089981" opacity="0.7"/>
<rect x="329.19" y="287.00" width="1.9" height="4.40" fill="#089981"/>
<rect x="331.73" y="282.60" width="0.8" height="7.90" fill="#f23645" opacity="0.7"/>
<rect x="331.18" y="287.00" width="1.9" height="2.50" fill="#f23645"/>
<rect x="333.73" y="284.50" width="0.8" height="6.25" fill="#089981" opacity="0.7"/>
<rect x="333.18" y="287.00" width="1.9" height="2.50" fill="#089981"/>
<rect x="335.73" y="284.00" width="0.8" height="5.50" fill="#089981" opacity="0.7"/>
<rect x="335.18" y="285.10" width="1.9" height="2.50" fill="#089981"/>
<rect x="337.73" y="278.90" width="0.8" height="8.10" fill="#089981" opacity="0.7"/>
<rect x="337.18" y="282.00" width="1.9" height="4.40" fill="#089981"/>
<rect x="339.73" y="281.00" width="0.8" height="4.00" fill="#f23645" opacity="0.7"/>
<rect x="339.18" y="282.00" width="1.9" height="1.90" fill="#f23645"/>
<rect x="341.72" y="282.50" width="0.8" height="8.25" fill="#f23645" opacity="0.7"/>
<rect x="341.17" y="283.25" width="1.9" height="2.50" fill="#f23645"/>
<rect x="343.72" y="283.00" width="0.8" height="3.50" fill="#089981" opacity="0.7"/>
<rect x="343.17" y="283.90" width="1.9" height="1.85" fill="#089981"/>
<rect x="345.72" y="282.00" width="0.8" height="5.00" fill="#f23645" opacity="0.7"/>
<rect x="345.17" y="283.90" width="1.9" height="1.85" fill="#f23645"/>
<rect x="347.72" y="280.75" width="0.8" height="8.15" fill="#f23645" opacity="0.7"/>
<rect x="347.17" y="284.50" width="1.9" height="3.10" fill="#f23645"/>
<rect x="349.72" y="280.75" width="0.8" height="7.75" fill="#089981" opacity="0.7"/>
<rect x="349.17" y="282.00" width="1.9" height="5.60" fill="#089981"/>
<rect x="351.71" y="277.00" width="0.8" height="6.00" fill="#089981" opacity="0.7"/>
<rect x="351.16" y="281.40" width="1.9" height="0.80" fill="#089981"/>
<rect x="353.71" y="269.50" width="0.8" height="14.00" fill="#089981" opacity="0.7"/>
<rect x="353.16" y="270.75" width="1.9" height="11.85" fill="#089981"/>
<rect x="355.71" y="268.90" width="0.8" height="14.10" fill="#f23645" opacity="0.7"/>
<rect x="355.16" y="270.75" width="1.9" height="11.25" fill="#f23645"/>
<rect x="357.71" y="278.25" width="0.8" height="5.75" fill="#f23645" opacity="0.7"/>
<rect x="357.16" y="279.50" width="1.9" height="3.75" fill="#f23645"/>
<rect x="359.70" y="281.00" width="0.8" height="5.50" fill="#f23645" opacity="0.7"/>
<rect x="359.15" y="282.00" width="1.9" height="3.75" fill="#f23645"/>
<rect x="361.70" y="283.50" width="0.8" height="4.50" fill="#f23645" opacity="0.7"/>
<rect x="361.15" y="284.50" width="1.9" height="2.50" fill="#f23645"/>
<rect x="363.70" y="284.50" width="0.8" height="11.25" fill="#f23645" opacity="0.7"/>
<rect x="363.15" y="286.40" width="1.9" height="5.60" fill="#f23645"/>
<rect x="365.70" y="288.00" width="0.8" height="8.40" fill="#089981" opacity="0.7"/>
<rect x="365.15" y="288.90" width="1.9" height="3.70" fill="#089981"/>
<rect x="367.70" y="284.50" width="0.8" height="6.00" fill="#089981" opacity="0.7"/>
<rect x="367.15" y="285.50" width="1.9" height="4.00" fill="#089981"/>
<rect x="369.69" y="282.60" width="0.8" height="5.90" fill="#f23645" opacity="0.7"/>
<rect x="369.14" y="285.50" width="1.9" height="2.10" fill="#f23645"/>
<rect x="371.69" y="286.00" width="0.8" height="6.60" fill="#f23645" opacity="0.7"/>
<rect x="371.14" y="287.00" width="1.9" height="2.50" fill="#f23645"/>
<rect x="373.69" y="282.00" width="0.8" height="8.50" fill="#089981" opacity="0.7"/>
<rect x="373.14" y="286.40" width="1.9" height="3.10" fill="#089981"/>
<rect x="375.69" y="285.50" width="0.8" height="5.25" fill="#f23645" opacity="0.7"/>
<rect x="375.14" y="286.40" width="1.9" height="1.10" fill="#f23645"/>
<rect x="377.68" y="280.00" width="0.8" height="8.00" fill="#089981" opacity="0.7"/>
<rect x="377.13" y="280.75" width="1.9" height="6.25" fill="#089981"/>
<rect x="379.68" y="275.75" width="0.8" height="7.25" fill="#089981" opacity="0.7"/>
<rect x="379.13" y="280.10" width="1.9" height="1.90" fill="#089981"/>
<rect x="381.68" y="277.60" width="0.8" height="8.15" fill="#f23645" opacity="0.7"/>
<rect x="381.13" y="280.10" width="1.9" height="2.50" fill="#f23645"/>
<rect x="383.68" y="267.00" width="0.8" height="16.50" fill="#089981" opacity="0.7"/>
<rect x="383.13" y="272.00" width="1.9" height="10.60" fill="#089981"/>
<rect x="385.68" y="259.50" width="0.8" height="14.00" fill="#f23645" opacity="0.7"/>
<rect x="385.13" y="270.50" width="1.9" height="1.80" fill="#f23645"/>
<rect x="387.67" y="268.25" width="0.8" height="6.25" fill="#089981" opacity="0.7"/>
<rect x="387.12" y="269.50" width="1.9" height="3.10" fill="#089981"/>
<rect x="389.67" y="263.90" width="0.8" height="7.60" fill="#089981" opacity="0.7"/>
<rect x="389.12" y="266.40" width="1.9" height="4.35" fill="#089981"/>
<rect x="391.67" y="265.50" width="0.8" height="13.50" fill="#f23645" opacity="0.7"/>
<rect x="391.12" y="266.40" width="1.9" height="11.85" fill="#f23645"/>
<rect x="393.67" y="276.50" width="0.8" height="9.25" fill="#f23645" opacity="0.7"/>
<rect x="393.12" y="277.60" width="1.9" height="2.50" fill="#f23645"/>
<rect x="395.66" y="278.00" width="0.8" height="3.00" fill="#f23645" opacity="0.7"/>
<rect x="395.11" y="278.90" width="1.9" height="1.20" fill="#f23645"/>
<rect x="397.66" y="278.50" width="0.8" height="4.00" fill="#f23645" opacity="0.7"/>
<rect x="397.11" y="279.50" width="1.9" height="1.90" fill="#f23645"/>
<rect x="399.66" y="280.00" width="0.8" height="8.90" fill="#f23645" opacity="0.7"/>
<rect x="399.11" y="280.75" width="1.9" height="2.50" fill="#f23645"/>
<rect x="401.66" y="277.50" width="0.8" height="6.50" fill="#089981" opacity="0.7"/>
<rect x="401.11" y="278.25" width="1.9" height="5.00" fill="#089981"/>
<rect x="403.66" y="277.50" width="0.8" height="13.00" fill="#f23645" opacity="0.7"/>
<rect x="403.11" y="278.25" width="1.9" height="11.25" fill="#f23645"/>
<rect x="405.65" y="286.00" width="0.8" height="4.50" fill="#089981" opacity="0.7"/>
<rect x="405.10" y="287.00" width="1.9" height="2.50" fill="#089981"/>
<rect x="407.65" y="286.00" width="0.8" height="7.25" fill="#f23645" opacity="0.7"/>
<rect x="407.10" y="287.00" width="1.9" height="1.50" fill="#f23645"/>
<rect x="409.65" y="285.50" width="0.8" height="4.50" fill="#089981" opacity="0.7"/>
<rect x="409.10" y="286.40" width="1.9" height="2.50" fill="#089981"/>
<rect x="411.65" y="284.50" width="0.8" height="5.00" fill="#f23645" opacity="0.7"/>
<rect x="411.10" y="286.40" width="1.9" height="1.85" fill="#f23645"/>
<rect x="413.64" y="286.50" width="0.8" height="9.25" fill="#f23645" opacity="0.7"/>
<rect x="413.09" y="287.60" width="1.9" height="3.15" fill="#f23645"/>
<rect x="415.64" y="288.50" width="0.8" height="5.00" fill="#f23645" opacity="0.7"/>
<rect x="415.09" y="289.50" width="1.9" height="2.50" fill="#f23645"/>
<rect x="417.64" y="290.00" width="0.8" height="10.00" fill="#f23645" opacity="0.7"/>
<rect x="417.09" y="290.75" width="1.9" height="8.15" fill="#f23645"/>
<rect x="419.64" y="297.50" width="0.8" height="12.50" fill="#f23645" opacity="0.7"/>
<rect x="419.09" y="298.25" width="1.9" height="11.00" fill="#f23645"/>
<rect x="421.64" y="304.90" width="0.8" height="5.10" fill="#089981" opacity="0.7"/>
<rect x="421.09" y="306.75" width="1.9" height="2.50" fill="#089981"/>
<rect x="423.63" y="304.25" width="0.8" height="12.50" fill="#f23645" opacity="0.7"/>
<rect x="423.08" y="306.75" width="1.9" height="6.85" fill="#f23645"/>
<rect x="425.63" y="306.50" width="0.8" height="8.40" fill="#089981" opacity="0.7"/>
<rect x="425.08" y="307.40" width="1.9" height="6.20" fill="#089981"/>
<rect x="427.63" y="305.00" width="0.8" height="4.00" fill="#089981" opacity="0.7"/>
<rect x="427.08" y="306.10" width="1.9" height="1.90" fill="#089981"/>
<rect x="429.63" y="304.90" width="0.8" height="2.60" fill="#f23645" opacity="0.7"/>
<rect x="429.08" y="305.50" width="1.9" height="1.25" fill="#f23645"/>
<rect x="431.62" y="306.00" width="0.8" height="27.00" fill="#f23645" opacity="0.7"/>
<rect x="431.07" y="306.75" width="1.9" height="19.35" fill="#f23645"/>
<rect x="433.62" y="325.00" width="0.8" height="22.40" fill="#f23645" opacity="0.7"/>
<rect x="433.07" y="326.10" width="1.9" height="15.00" fill="#f23645"/>
<rect x="435.62" y="339.50" width="0.8" height="6.00" fill="#f23645" opacity="0.7"/>
<rect x="435.07" y="340.50" width="1.9" height="1.90" fill="#f23645"/>
<rect x="437.62" y="338.00" width="0.8" height="5.50" fill="#089981" opacity="0.7"/>
<rect x="437.07" y="339.90" width="1.9" height="2.50" fill="#089981"/>
<rect x="439.62" y="332.40" width="0.8" height="9.10" fill="#089981" opacity="0.7"/>
<rect x="439.07" y="334.90" width="1.9" height="5.60" fill="#089981"/>
<rect x="441.61" y="333.60" width="0.8" height="5.90" fill="#f23645" opacity="0.7"/>
<rect x="441.06" y="334.90" width="1.9" height="3.70" fill="#f23645"/>
<rect x="443.61" y="333.60" width="0.8" height="8.80" fill="#089981" opacity="0.7"/>
<rect x="443.06" y="334.90" width="1.9" height="4.35" fill="#089981"/>
<rect x="445.61" y="331.00" width="0.8" height="13.25" fill="#f23645" opacity="0.7"/>
<rect x="445.06" y="334.90" width="1.9" height="5.00" fill="#f23645"/>
<rect x="447.61" y="336.00" width="0.8" height="5.00" fill="#089981" opacity="0.7"/>
<rect x="447.06" y="336.75" width="1.9" height="3.15" fill="#089981"/>
<rect x="449.61" y="323.00" width="0.8" height="14.50" fill="#089981" opacity="0.7"/>
<rect x="449.06" y="326.75" width="1.9" height="10.00" fill="#089981"/>
<rect x="451.60" y="326.00" width="0.8" height="8.50" fill="#f23645" opacity="0.7"/>
<rect x="451.05" y="326.75" width="1.9" height="6.85" fill="#f23645"/>
<rect x="453.60" y="332.00" width="0.8" height="9.10" fill="#f23645" opacity="0.7"/>
<rect x="453.05" y="333.00" width="1.9" height="3.75" fill="#f23645"/>
<rect x="455.60" y="329.90" width="0.8" height="10.60" fill="#089981" opacity="0.7"/>
<rect x="455.05" y="336.00" width="1.9" height="0.80" fill="#089981"/>
<rect x="457.60" y="334.00" width="0.8" height="7.75" fill="#089981" opacity="0.7"/>
<rect x="457.05" y="335.00" width="1.9" height="1.00" fill="#089981"/>
<rect x="459.59" y="334.50" width="0.8" height="6.00" fill="#f23645" opacity="0.7"/>
<rect x="459.04" y="335.50" width="1.9" height="1.90" fill="#f23645"/>
<rect x="461.59" y="331.00" width="0.8" height="7.00" fill="#089981" opacity="0.7"/>
<rect x="461.04" y="331.75" width="1.9" height="5.65" fill="#089981"/>
<rect x="463.59" y="330.50" width="0.8" height="3.50" fill="#f23645" opacity="0.7"/>
<rect x="463.04" y="331.10" width="1.9" height="1.90" fill="#f23645"/>
<rect x="465.59" y="329.90" width="0.8" height="5.10" fill="#f23645" opacity="0.7"/>
<rect x="465.04" y="331.75" width="1.9" height="2.50" fill="#f23645"/>
<rect x="467.59" y="330.00" width="0.8" height="8.00" fill="#089981" opacity="0.7"/>
<rect x="467.04" y="331.10" width="1.9" height="3.80" fill="#089981"/>
<rect x="469.58" y="328.50" width="0.8" height="3.50" fill="#089981" opacity="0.7"/>
<rect x="469.03" y="329.25" width="1.9" height="1.85" fill="#089981"/>
<rect x="471.58" y="327.40" width="0.8" height="4.10" fill="#f23645" opacity="0.7"/>
<rect x="471.03" y="328.60" width="1.9" height="1.90" fill="#f23645"/>
<rect x="473.58" y="329.00" width="0.8" height="3.50" fill="#f23645" opacity="0.7"/>
<rect x="473.03" y="329.90" width="1.9" height="1.85" fill="#f23645"/>
<rect x="475.58" y="321.10" width="0.8" height="11.40" fill="#089981" opacity="0.7"/>
<rect x="475.03" y="324.25" width="1.9" height="7.50" fill="#089981"/>
<rect x="477.57" y="322.50" width="0.8" height="3.00" fill="#089981" opacity="0.7"/>
<rect x="477.02" y="323.60" width="1.9" height="1.30" fill="#089981"/>
<rect x="479.57" y="322.80" width="0.8" height="7.20" fill="#f23645" opacity="0.7"/>
<rect x="479.02" y="323.60" width="1.9" height="5.65" fill="#f23645"/>
<rect x="481.57" y="327.80" width="0.8" height="8.70" fill="#f23645" opacity="0.7"/>
<rect x="481.02" y="328.60" width="1.9" height="6.90" fill="#f23645"/>
<rect x="483.57" y="331.00" width="0.8" height="6.40" fill="#089981" opacity="0.7"/>
<rect x="483.02" y="331.75" width="1.9" height="3.75" fill="#089981"/>
<rect x="485.57" y="329.25" width="0.8" height="5.25" fill="#f23645" opacity="0.7"/>
<rect x="485.02" y="331.10" width="1.9" height="2.50" fill="#f23645"/>
<rect x="487.56" y="332.00" width="0.8" height="3.50" fill="#f23645" opacity="0.7"/>
<rect x="487.01" y="333.00" width="1.9" height="1.50" fill="#f23645"/>
<rect x="489.56" y="332.50" width="0.8" height="2.50" fill="#089981" opacity="0.7"/>
<rect x="489.01" y="333.60" width="1.9" height="0.80" fill="#089981"/>
<rect x="491.56" y="324.00" width="0.8" height="10.50" fill="#089981" opacity="0.7"/>
<rect x="491.01" y="324.90" width="1.9" height="8.70" fill="#089981"/>
<rect x="493.56" y="323.00" width="0.8" height="6.00" fill="#f23645" opacity="0.7"/>
<rect x="493.01" y="324.90" width="1.9" height="3.10" fill="#f23645"/>
<rect x="495.55" y="320.00" width="0.8" height="9.00" fill="#089981" opacity="0.7"/>
<rect x="495.00" y="321.10" width="1.9" height="6.90" fill="#089981"/>
<rect x="497.55" y="314.25" width="0.8" height="8.25" fill="#089981" opacity="0.7"/>
<rect x="497.00" y="316.75" width="1.9" height="5.00" fill="#089981"/>
<rect x="499.55" y="315.50" width="0.8" height="4.50" fill="#f23645" opacity="0.7"/>
<rect x="499.00" y="316.75" width="1.9" height="2.50" fill="#f23645"/>
<rect x="501.55" y="317.00" width="0.8" height="9.90" fill="#f23645" opacity="0.7"/>
<rect x="501.00" y="318.00" width="1.9" height="3.75" fill="#f23645"/>
<rect x="503.55" y="317.50" width="0.8" height="7.00" fill="#089981" opacity="0.7"/>
<rect x="503.00" y="318.40" width="1.9" height="4.00" fill="#089981"/>
<rect x="505.54" y="310.80" width="0.8" height="8.70" fill="#089981" opacity="0.7"/>
<rect x="504.99" y="316.50" width="1.9" height="1.90" fill="#089981"/>
<rect x="507.54" y="314.25" width="0.8" height="6.75" fill="#f23645" opacity="0.7"/>
<rect x="506.99" y="316.50" width="1.9" height="3.70" fill="#f23645"/>
<rect x="509.54" y="318.50" width="0.8" height="3.00" fill="#f23645" opacity="0.7"/>
<rect x="508.99" y="319.30" width="1.9" height="1.30" fill="#f23645"/>
<rect x="511.54" y="319.00" width="0.8" height="7.50" fill="#f23645" opacity="0.7"/>
<rect x="510.99" y="320.00" width="1.9" height="5.60" fill="#f23645"/>
<rect x="513.53" y="313.50" width="0.8" height="14.30" fill="#089981" opacity="0.7"/>
<rect x="512.98" y="314.30" width="1.9" height="12.20" fill="#089981"/>
<rect x="515.53" y="312.40" width="0.8" height="14.80" fill="#f23645" opacity="0.7"/>
<rect x="514.98" y="314.30" width="1.9" height="11.50" fill="#f23645"/>
<rect x="517.53" y="322.00" width="0.8" height="4.50" fill="#089981" opacity="0.7"/>
<rect x="516.98" y="322.80" width="1.9" height="3.00" fill="#089981"/>
<rect x="519.53" y="320.30" width="0.8" height="3.70" fill="#089981" opacity="0.7"/>
<rect x="518.98" y="321.20" width="1.9" height="2.10" fill="#089981"/>
<rect x="521.53" y="316.20" width="0.8" height="6.30" fill="#089981" opacity="0.7"/>
<rect x="520.98" y="320.00" width="1.9" height="1.80" fill="#089981"/>
<rect x="523.52" y="318.40" width="0.8" height="4.60" fill="#f23645" opacity="0.7"/>
<rect x="522.97" y="320.00" width="1.9" height="2.20" fill="#f23645"/>
<rect x="525.52" y="315.30" width="0.8" height="7.70" fill="#089981" opacity="0.7"/>
<rect x="524.97" y="316.20" width="1.9" height="6.00" fill="#089981"/>
<rect x="527.52" y="313.10" width="0.8" height="14.40" fill="#f23645" opacity="0.7"/>
<rect x="526.97" y="315.60" width="1.9" height="6.90" fill="#f23645"/>
<rect x="529.52" y="321.50" width="0.8" height="10.50" fill="#f23645" opacity="0.7"/>
<rect x="528.97" y="322.50" width="1.9" height="8.75" fill="#f23645"/>
<rect x="531.51" y="330.50" width="0.8" height="5.75" fill="#f23645" opacity="0.7"/>
<rect x="530.96" y="331.25" width="1.9" height="3.15" fill="#f23645"/>
<rect x="533.51" y="330.30" width="0.8" height="4.90" fill="#089981" opacity="0.7"/>
<rect x="532.96" y="331.25" width="1.9" height="3.15" fill="#089981"/>
<rect x="535.51" y="331.00" width="0.8" height="4.30" fill="#f23645" opacity="0.7"/>
<rect x="534.96" y="331.90" width="1.9" height="2.50" fill="#f23645"/>
<rect x="537.51" y="333.00" width="0.8" height="6.40" fill="#f23645" opacity="0.7"/>
<rect x="536.96" y="333.75" width="1.9" height="1.85" fill="#f23645"/>
<rect x="539.51" y="334.20" width="0.8" height="3.80" fill="#f23645" opacity="0.7"/>
<rect x="538.96" y="335.00" width="1.9" height="1.90" fill="#f23645"/>
<rect x="541.50" y="335.50" width="0.8" height="7.00" fill="#f23645" opacity="0.7"/>
<rect x="540.95" y="336.25" width="1.9" height="3.75" fill="#f23645"/>
<rect x="543.50" y="338.00" width="0.8" height="3.50" fill="#089981" opacity="0.7"/>
<rect x="542.95" y="338.75" width="1.9" height="1.85" fill="#089981"/>
<rect x="545.50" y="336.00" width="0.8" height="3.50" fill="#089981" opacity="0.7"/>
<rect x="544.95" y="336.90" width="1.9" height="1.85" fill="#089981"/>
<rect x="547.50" y="335.40" width="0.8" height="2.90" fill="#089981" opacity="0.7"/>
<rect x="546.95" y="336.25" width="1.9" height="1.25" fill="#089981"/>
<rect x="549.50" y="330.40" width="0.8" height="7.20" fill="#089981" opacity="0.7"/>
<rect x="548.94" y="331.25" width="1.9" height="5.65" fill="#089981"/>
<rect x="551.49" y="322.00" width="0.8" height="10.00" fill="#089981" opacity="0.7"/>
<rect x="550.94" y="322.80" width="1.9" height="8.45" fill="#089981"/>
<rect x="553.49" y="321.25" width="0.8" height="3.25" fill="#089981" opacity="0.7"/>
<rect x="552.94" y="322.50" width="1.9" height="1.25" fill="#089981"/>
<rect x="555.49" y="318.10" width="0.8" height="5.20" fill="#089981" opacity="0.7"/>
<rect x="554.94" y="321.90" width="1.9" height="0.80" fill="#089981"/>
<rect x="557.49" y="321.00" width="0.8" height="5.40" fill="#f23645" opacity="0.7"/>
<rect x="556.94" y="321.90" width="1.9" height="3.70" fill="#f23645"/>
<rect x="559.48" y="318.50" width="0.8" height="7.80" fill="#089981" opacity="0.7"/>
<rect x="558.93" y="319.40" width="1.9" height="6.20" fill="#089981"/>
<rect x="561.48" y="295.60" width="0.8" height="24.60" fill="#089981" opacity="0.7"/>
<rect x="560.93" y="302.50" width="1.9" height="16.90" fill="#089981"/>
<rect x="563.48" y="301.60" width="0.8" height="5.90" fill="#f23645" opacity="0.7"/>
<rect x="562.93" y="302.50" width="1.9" height="3.10" fill="#f23645"/>
<rect x="565.48" y="291.25" width="0.8" height="15.15" fill="#089981" opacity="0.7"/>
<rect x="564.93" y="301.25" width="1.9" height="4.35" fill="#089981"/>
<rect x="567.48" y="294.40" width="0.8" height="7.60" fill="#089981" opacity="0.7"/>
<rect x="566.93" y="296.25" width="1.9" height="5.00" fill="#089981"/>
<rect x="569.47" y="295.00" width="0.8" height="9.60" fill="#f23645" opacity="0.7"/>
<rect x="568.92" y="296.25" width="1.9" height="7.50" fill="#f23645"/>
<rect x="571.47" y="300.00" width="0.8" height="6.00" fill="#f23645" opacity="0.7"/>
<rect x="570.92" y="303.10" width="1.9" height="1.90" fill="#f23645"/>
<rect x="573.47" y="303.50" width="0.8" height="7.30" fill="#f23645" opacity="0.7"/>
<rect x="572.92" y="304.40" width="1.9" height="5.60" fill="#f23645"/>
<rect x="575.47" y="308.60" width="0.8" height="5.15" fill="#f23645" opacity="0.7"/>
<rect x="574.92" y="309.40" width="1.9" height="3.10" fill="#f23645"/>
<rect x="577.46" y="307.20" width="0.8" height="6.10" fill="#089981" opacity="0.7"/>
<rect x="576.91" y="308.10" width="1.9" height="4.40" fill="#089981"/>
<rect x="579.46" y="303.10" width="0.8" height="6.40" fill="#089981" opacity="0.7"/>
<rect x="578.91" y="306.25" width="1.9" height="2.50" fill="#089981"/>
<rect x="581.46" y="296.25" width="0.8" height="13.15" fill="#089981" opacity="0.7"/>
<rect x="580.91" y="298.10" width="1.9" height="8.80" fill="#089981"/>
<rect x="583.46" y="295.60" width="0.8" height="7.70" fill="#f23645" opacity="0.7"/>
<rect x="582.91" y="298.10" width="1.9" height="4.40" fill="#f23645"/>
<rect x="585.46" y="301.60" width="0.8" height="5.40" fill="#f23645" opacity="0.7"/>
<rect x="584.91" y="302.50" width="1.9" height="3.75" fill="#f23645"/>
<rect x="587.45" y="293.10" width="0.8" height="13.90" fill="#089981" opacity="0.7"/>
<rect x="586.90" y="296.25" width="1.9" height="10.00" fill="#089981"/>
<rect x="589.45" y="291.25" width="0.8" height="7.50" fill="#089981" opacity="0.7"/>
<rect x="588.90" y="295.00" width="1.9" height="1.25" fill="#089981"/>
<rect x="591.45" y="291.90" width="0.8" height="4.60" fill="#089981" opacity="0.7"/>
<rect x="590.90" y="294.40" width="1.9" height="1.20" fill="#089981"/>
<rect x="593.45" y="280.00" width="0.8" height="17.00" fill="#089981" opacity="0.7"/>
<rect x="592.90" y="290.60" width="1.9" height="5.65" fill="#089981"/>
<rect x="595.44" y="285.60" width="0.8" height="7.40" fill="#f23645" opacity="0.7"/>
<rect x="594.89" y="290.60" width="1.9" height="1.40" fill="#f23645"/>
<rect x="597.44" y="285.60" width="0.8" height="17.70" fill="#f23645" opacity="0.7"/>
<rect x="596.89" y="290.60" width="1.9" height="11.90" fill="#f23645"/>
<rect x="599.44" y="300.40" width="0.8" height="8.35" fill="#f23645" opacity="0.7"/>
<rect x="598.89" y="301.25" width="1.9" height="3.15" fill="#f23645"/>
<rect x="601.44" y="298.75" width="0.8" height="6.45" fill="#089981" opacity="0.7"/>
<rect x="600.89" y="302.50" width="1.9" height="1.90" fill="#089981"/>
<rect x="603.44" y="301.50" width="0.8" height="7.90" fill="#089981" opacity="0.7"/>
<rect x="602.89" y="302.30" width="1.9" height="0.80" fill="#089981"/>
<rect x="605.43" y="301.00" width="0.8" height="5.00" fill="#f23645" opacity="0.7"/>
<rect x="604.88" y="301.90" width="1.9" height="3.10" fill="#f23645"/>
<rect x="607.43" y="303.60" width="0.8" height="9.10" fill="#f23645" opacity="0.7"/>
<rect x="606.88" y="304.40" width="1.9" height="7.50" fill="#f23645"/>
<rect x="609.43" y="301.90" width="0.8" height="10.70" fill="#089981" opacity="0.7"/>
<rect x="608.88" y="306.25" width="1.9" height="5.65" fill="#089981"/>
<rect x="611.43" y="305.00" width="0.8" height="12.00" fill="#f23645" opacity="0.7"/>
<rect x="610.88" y="306.25" width="1.9" height="10.00" fill="#f23645"/>
<rect x="613.42" y="314.80" width="0.8" height="5.20" fill="#f23645" opacity="0.7"/>
<rect x="612.87" y="315.60" width="1.9" height="1.30" fill="#f23645"/>
<rect x="615.42" y="312.90" width="0.8" height="3.50" fill="#089981" opacity="0.7"/>
<rect x="614.87" y="313.75" width="1.9" height="1.85" fill="#089981"/>
<rect x="617.42" y="312.90" width="0.8" height="2.90" fill="#089981" opacity="0.7"/>
<rect x="616.87" y="313.75" width="1.9" height="1.25" fill="#089981"/>
<rect x="619.42" y="314.20" width="0.8" height="6.00" fill="#f23645" opacity="0.7"/>
<rect x="618.87" y="315.00" width="1.9" height="4.40" fill="#f23645"/>
<rect x="621.42" y="317.80" width="0.8" height="9.70" fill="#f23645" opacity="0.7"/>
<rect x="620.87" y="318.60" width="1.9" height="8.10" fill="#f23645"/>
<rect x="623.41" y="320.90" width="0.8" height="6.40" fill="#089981" opacity="0.7"/>
<rect x="622.86" y="321.70" width="1.9" height="4.80" fill="#089981"/>
<rect x="625.41" y="320.90" width="0.8" height="8.20" fill="#f23645" opacity="0.7"/>
<rect x="624.86" y="321.70" width="1.9" height="4.80" fill="#f23645"/>
<rect x="627.41" y="324.60" width="0.8" height="2.80" fill="#089981" opacity="0.7"/>
<rect x="626.86" y="325.40" width="1.9" height="1.20" fill="#089981"/>
<rect x="629.41" y="314.75" width="0.8" height="12.05" fill="#089981" opacity="0.7"/>
<rect x="628.86" y="317.90" width="1.9" height="8.10" fill="#089981"/>
<rect x="631.40" y="311.60" width="0.8" height="7.70" fill="#089981" opacity="0.7"/>
<rect x="630.85" y="314.10" width="1.9" height="4.40" fill="#089981"/>
<rect x="633.40" y="306.00" width="0.8" height="10.00" fill="#089981" opacity="0.7"/>
<rect x="632.85" y="312.90" width="1.9" height="1.20" fill="#089981"/>
<rect x="635.40" y="311.40" width="0.8" height="2.90" fill="#089981" opacity="0.7"/>
<rect x="634.85" y="312.25" width="1.9" height="1.25" fill="#089981"/>
<rect x="637.40" y="308.50" width="0.8" height="5.80" fill="#f23645" opacity="0.7"/>
<rect x="636.85" y="311.60" width="1.9" height="1.90" fill="#f23645"/>
<rect x="639.40" y="310.80" width="0.8" height="3.50" fill="#089981" opacity="0.7"/>
<rect x="638.85" y="311.60" width="1.9" height="1.90" fill="#089981"/>
<rect x="641.39" y="304.75" width="0.8" height="8.25" fill="#089981" opacity="0.7"/>
<rect x="640.84" y="307.25" width="1.9" height="5.00" fill="#089981"/>
<rect x="643.39" y="305.40" width="0.8" height="5.80" fill="#f23645" opacity="0.7"/>
<rect x="642.84" y="307.25" width="1.9" height="3.15" fill="#f23645"/>
<rect x="645.39" y="307.90" width="0.8" height="8.90" fill="#f23645" opacity="0.7"/>
<rect x="644.84" y="309.75" width="1.9" height="6.25" fill="#f23645"/>
<rect x="647.39" y="314.20" width="0.8" height="2.80" fill="#f23645" opacity="0.7"/>
<rect x="646.84" y="315.00" width="1.9" height="1.20" fill="#f23645"/>
<rect x="649.38" y="314.60" width="0.8" height="2.80" fill="#f23645" opacity="0.7"/>
<rect x="648.83" y="315.40" width="1.9" height="1.20" fill="#f23645"/>
<rect x="651.38" y="313.30" width="0.8" height="4.10" fill="#089981" opacity="0.7"/>
<rect x="650.83" y="314.10" width="1.9" height="2.50" fill="#089981"/>
<rect x="653.38" y="311.60" width="0.8" height="6.90" fill="#f23645" opacity="0.7"/>
<rect x="652.83" y="314.10" width="1.9" height="3.15" fill="#f23645"/>
<rect x="655.38" y="308.50" width="0.8" height="9.50" fill="#089981" opacity="0.7"/>
<rect x="654.83" y="310.40" width="1.9" height="6.85" fill="#089981"/>
<rect x="657.38" y="309.00" width="0.8" height="3.40" fill="#089981" opacity="0.7"/>
<rect x="656.83" y="309.75" width="1.9" height="1.85" fill="#089981"/>
<rect x="659.37" y="307.25" width="0.8" height="3.95" fill="#089981" opacity="0.7"/>
<rect x="658.82" y="308.50" width="1.9" height="1.90" fill="#089981"/>
<rect x="661.37" y="301.60" width="0.8" height="8.40" fill="#f23645" opacity="0.7"/>
<rect x="660.82" y="307.90" width="1.9" height="1.30" fill="#f23645"/>
<rect x="663.37" y="303.50" width="0.8" height="7.00" fill="#089981" opacity="0.7"/>
<rect x="662.82" y="304.75" width="1.9" height="5.00" fill="#089981"/>
<rect x="665.37" y="303.50" width="0.8" height="6.40" fill="#f23645" opacity="0.7"/>
<rect x="664.82" y="304.75" width="1.9" height="4.35" fill="#f23645"/>
<rect x="667.37" y="307.70" width="0.8" height="3.50" fill="#f23645" opacity="0.7"/>
<rect x="666.82" y="308.50" width="1.9" height="1.90" fill="#f23645"/>
<rect x="669.36" y="308.30" width="0.8" height="5.40" fill="#f23645" opacity="0.7"/>
<rect x="668.81" y="309.10" width="1.9" height="3.80" fill="#f23645"/>
<rect x="671.36" y="311.40" width="0.8" height="7.30" fill="#f23645" opacity="0.7"/>
<rect x="670.81" y="312.25" width="1.9" height="5.65" fill="#f23645"/>
<rect x="673.36" y="315.20" width="0.8" height="4.55" fill="#089981" opacity="0.7"/>
<rect x="672.81" y="316.00" width="1.9" height="1.90" fill="#089981"/>
<rect x="675.36" y="315.20" width="0.8" height="2.80" fill="#f23645" opacity="0.7"/>
<rect x="674.81" y="316.00" width="1.9" height="1.25" fill="#f23645"/>
<rect x="677.35" y="312.90" width="0.8" height="6.20" fill="#089981" opacity="0.7"/>
<rect x="676.80" y="314.10" width="1.9" height="3.80" fill="#089981"/>
<rect x="679.35" y="313.30" width="0.8" height="3.50" fill="#f23645" opacity="0.7"/>
<rect x="678.80" y="314.10" width="1.9" height="1.90" fill="#f23645"/>
<rect x="681.35" y="314.60" width="0.8" height="7.00" fill="#f23645" opacity="0.7"/>
<rect x="680.80" y="315.40" width="1.9" height="4.35" fill="#f23645"/>
<rect x="683.35" y="312.90" width="0.8" height="7.60" fill="#089981" opacity="0.7"/>
<rect x="682.80" y="314.75" width="1.9" height="5.00" fill="#089981"/>
<rect x="685.35" y="313.30" width="0.8" height="4.10" fill="#089981" opacity="0.7"/>
<rect x="684.80" y="314.10" width="1.9" height="2.50" fill="#089981"/>
<rect x="687.34" y="312.00" width="0.8" height="3.50" fill="#089981" opacity="0.7"/>
<rect x="686.79" y="312.90" width="1.9" height="1.85" fill="#089981"/>
<rect x="689.34" y="312.70" width="0.8" height="5.30" fill="#f23645" opacity="0.7"/>
<rect x="688.79" y="313.50" width="1.9" height="3.75" fill="#f23645"/>
<rect x="691.34" y="315.80" width="0.8" height="6.60" fill="#f23645" opacity="0.7"/>
<rect x="690.79" y="316.60" width="1.9" height="5.00" fill="#f23645"/>
<rect x="693.34" y="320.20" width="0.8" height="6.00" fill="#f23645" opacity="0.7"/>
<rect x="692.79" y="321.00" width="1.9" height="4.40" fill="#f23645"/>
<rect x="695.33" y="324.00" width="0.8" height="4.70" fill="#f23645" opacity="0.7"/>
<rect x="694.78" y="324.75" width="1.9" height="3.15" fill="#f23645"/>
<rect x="697.33" y="326.40" width="0.8" height="8.35" fill="#f23645" opacity="0.7"/>
<rect x="696.78" y="327.25" width="1.9" height="2.50" fill="#f23645"/>
<rect x="699.33" y="327.10" width="0.8" height="3.40" fill="#089981" opacity="0.7"/>
<rect x="698.78" y="327.90" width="1.9" height="1.85" fill="#089981"/>
<rect x="701.33" y="322.25" width="0.8" height="6.45" fill="#089981" opacity="0.7"/>
<rect x="700.78" y="324.75" width="1.9" height="3.15" fill="#089981"/>
<rect x="703.33" y="324.00" width="0.8" height="4.00" fill="#f23645" opacity="0.7"/>
<rect x="702.78" y="324.75" width="1.9" height="2.50" fill="#f23645"/>
<rect x="705.32" y="325.80" width="0.8" height="4.10" fill="#f23645" opacity="0.7"/>
<rect x="704.77" y="326.60" width="1.9" height="2.50" fill="#f23645"/>
<rect x="707.32" y="327.10" width="0.8" height="4.50" fill="#f23645" opacity="0.7"/>
<rect x="706.77" y="327.90" width="1.9" height="1.85" fill="#f23645"/>
<rect x="709.32" y="325.80" width="0.8" height="4.10" fill="#089981" opacity="0.7"/>
<rect x="708.77" y="326.60" width="1.9" height="2.50" fill="#089981"/>
<rect x="711.32" y="324.10" width="0.8" height="3.90" fill="#f23645" opacity="0.7"/>
<rect x="710.77" y="326.00" width="1.9" height="1.25" fill="#f23645"/>
<rect x="713.31" y="325.80" width="0.8" height="4.10" fill="#f23645" opacity="0.7"/>
<rect x="712.76" y="326.60" width="1.9" height="2.50" fill="#f23645"/>
<rect x="715.31" y="327.10" width="0.8" height="6.40" fill="#f23645" opacity="0.7"/>
<rect x="714.76" y="327.90" width="1.9" height="4.35" fill="#f23645"/>
<rect x="717.31" y="328.30" width="0.8" height="4.70" fill="#089981" opacity="0.7"/>
<rect x="716.76" y="329.10" width="1.9" height="3.15" fill="#089981"/>
<rect x="719.31" y="328.30" width="0.8" height="8.30" fill="#f23645" opacity="0.7"/>
<rect x="718.76" y="329.10" width="1.9" height="6.70" fill="#f23645"/>
<rect x="721.31" y="334.70" width="0.8" height="6.60" fill="#f23645" opacity="0.7"/>
<rect x="720.76" y="335.50" width="1.9" height="5.00" fill="#f23645"/>
<rect x="723.30" y="339.20" width="0.8" height="27.05" fill="#f23645" opacity="0.7"/>
<rect x="722.75" y="340.00" width="1.9" height="16.90" fill="#f23645"/>
<rect x="725.30" y="352.30" width="0.8" height="7.70" fill="#089981" opacity="0.7"/>
<rect x="724.75" y="353.10" width="1.9" height="3.80" fill="#089981"/>
<rect x="727.30" y="351.70" width="0.8" height="3.50" fill="#f23645" opacity="0.7"/>
<rect x="726.75" y="352.50" width="1.9" height="1.90" fill="#f23645"/>
<rect x="729.30" y="352.30" width="0.8" height="2.90" fill="#f23645" opacity="0.7"/>
<rect x="728.75" y="353.10" width="1.9" height="1.30" fill="#f23645"/>
<rect x="731.29" y="353.00" width="0.8" height="8.40" fill="#f23645" opacity="0.7"/>
<rect x="730.74" y="353.75" width="1.9" height="6.85" fill="#f23645"/>
<rect x="733.29" y="354.80" width="0.8" height="6.60" fill="#089981" opacity="0.7"/>
<rect x="732.74" y="355.60" width="1.9" height="5.00" fill="#089981"/>
<rect x="735.29" y="353.00" width="0.8" height="4.00" fill="#089981" opacity="0.7"/>
<rect x="734.74" y="353.75" width="1.9" height="2.50" fill="#089981"/>
<rect x="737.29" y="348.60" width="0.8" height="6.60" fill="#089981" opacity="0.7"/>
<rect x="736.74" y="349.40" width="1.9" height="5.00" fill="#089981"/>
<rect x="739.29" y="345.50" width="0.8" height="4.70" fill="#089981" opacity="0.7"/>
<rect x="738.74" y="346.25" width="1.9" height="3.15" fill="#089981"/>
<rect x="741.28" y="345.50" width="0.8" height="6.50" fill="#f23645" opacity="0.7"/>
<rect x="740.73" y="346.25" width="1.9" height="5.00" fill="#f23645"/>
<rect x="743.28" y="348.00" width="0.8" height="4.00" fill="#089981" opacity="0.7"/>
<rect x="742.73" y="348.75" width="1.9" height="2.50" fill="#089981"/>
<rect x="745.28" y="348.00" width="0.8" height="2.80" fill="#f23645" opacity="0.7"/>
<rect x="744.73" y="348.75" width="1.9" height="1.25" fill="#f23645"/>
<rect x="747.28" y="345.60" width="0.8" height="5.20" fill="#089981" opacity="0.7"/>
<rect x="746.73" y="348.10" width="1.9" height="1.90" fill="#089981"/>
<rect x="749.27" y="347.30" width="0.8" height="6.60" fill="#f23645" opacity="0.7"/>
<rect x="748.72" y="348.10" width="1.9" height="5.00" fill="#f23645"/>
<rect x="751.27" y="348.00" width="0.8" height="5.90" fill="#089981" opacity="0.7"/>
<rect x="750.72" y="348.75" width="1.9" height="4.35" fill="#089981"/>
<rect x="753.27" y="348.00" width="0.8" height="4.00" fill="#f23645" opacity="0.7"/>
<rect x="752.72" y="348.75" width="1.9" height="2.50" fill="#f23645"/>
<rect x="755.27" y="349.80" width="0.8" height="4.70" fill="#f23645" opacity="0.7"/>
<rect x="754.72" y="350.60" width="1.9" height="3.15" fill="#f23645"/>
<rect x="757.27" y="351.10" width="0.8" height="6.40" fill="#089981" opacity="0.7"/>
<rect x="756.72" y="351.90" width="1.9" height="1.85" fill="#089981"/>
<rect x="759.26" y="344.40" width="0.8" height="8.30" fill="#089981" opacity="0.7"/>
<rect x="758.71" y="348.10" width="1.9" height="3.80" fill="#089981"/>
<rect x="761.26" y="338.75" width="0.8" height="10.15" fill="#089981" opacity="0.7"/>
<rect x="760.71" y="343.10" width="1.9" height="5.00" fill="#089981"/>
<rect x="763.26" y="341.25" width="0.8" height="4.55" fill="#f23645" opacity="0.7"/>
<rect x="762.71" y="343.10" width="1.9" height="1.90" fill="#f23645"/>
<rect x="765.26" y="343.60" width="0.8" height="2.80" fill="#f23645" opacity="0.7"/>
<rect x="764.71" y="344.40" width="1.9" height="1.20" fill="#f23645"/>
<rect x="767.26" y="343.60" width="0.8" height="2.80" fill="#089981" opacity="0.7"/>
<rect x="766.71" y="344.40" width="1.9" height="1.20" fill="#089981"/>
<rect x="769.25" y="340.60" width="0.8" height="5.80" fill="#f23645" opacity="0.7"/>
<rect x="768.70" y="343.75" width="1.9" height="1.85" fill="#f23645"/>
<rect x="771.25" y="343.00" width="0.8" height="5.10" fill="#089981" opacity="0.7"/>
<rect x="770.70" y="343.75" width="1.9" height="1.85" fill="#089981"/>
<rect x="773.25" y="341.70" width="0.8" height="3.50" fill="#f23645" opacity="0.7"/>
<rect x="772.70" y="342.50" width="1.9" height="1.90" fill="#f23645"/>
<rect x="775.25" y="343.00" width="0.8" height="5.90" fill="#f23645" opacity="0.7"/>
<rect x="774.70" y="343.75" width="1.9" height="4.35" fill="#f23645"/>
<rect x="777.24" y="346.70" width="0.8" height="6.60" fill="#f23645" opacity="0.7"/>
<rect x="776.69" y="347.50" width="1.9" height="5.00" fill="#f23645"/>
<rect x="779.24" y="348.00" width="0.8" height="5.30" fill="#089981" opacity="0.7"/>
<rect x="778.69" y="348.75" width="1.9" height="3.75" fill="#089981"/>
<rect x="781.24" y="346.70" width="0.8" height="3.50" fill="#089981" opacity="0.7"/>
<rect x="780.69" y="347.50" width="1.9" height="1.90" fill="#089981"/>
<rect x="783.24" y="346.00" width="0.8" height="3.00" fill="#089981" opacity="0.7"/>
<rect x="782.69" y="346.90" width="1.9" height="1.20" fill="#089981"/>
<rect x="785.24" y="346.70" width="0.8" height="3.50" fill="#f23645" opacity="0.7"/>
<rect x="784.69" y="347.50" width="1.9" height="1.90" fill="#f23645"/>
<rect x="787.23" y="348.00" width="0.8" height="2.80" fill="#f23645" opacity="0.7"/>
<rect x="786.68" y="348.75" width="1.9" height="1.25" fill="#f23645"/>
<rect x="789.23" y="349.20" width="0.8" height="2.80" fill="#f23645" opacity="0.7"/>
<rect x="788.68" y="350.00" width="1.9" height="1.25" fill="#f23645"/>
<rect x="791.23" y="348.10" width="0.8" height="5.80" fill="#f23645" opacity="0.7"/>
<rect x="790.68" y="350.60" width="1.9" height="2.50" fill="#f23645"/>
<rect x="793.23" y="351.70" width="0.8" height="7.80" fill="#f23645" opacity="0.7"/>
<rect x="792.68" y="352.50" width="1.9" height="6.25" fill="#f23645"/>
<rect x="795.22" y="355.00" width="0.8" height="4.00" fill="#089981" opacity="0.7"/>
<rect x="794.67" y="356.25" width="1.9" height="1.85" fill="#089981"/>
<rect x="797.22" y="355.00" width="0.8" height="5.20" fill="#f23645" opacity="0.7"/>
<rect x="796.67" y="356.25" width="1.9" height="3.15" fill="#f23645"/>
<rect x="799.22" y="356.70" width="0.8" height="4.10" fill="#f23645" opacity="0.7"/>
<rect x="798.67" y="357.50" width="1.9" height="2.50" fill="#f23645"/>
<rect x="801.22" y="356.10" width="0.8" height="4.70" fill="#089981" opacity="0.7"/>
<rect x="800.67" y="356.90" width="1.9" height="3.10" fill="#089981"/>
<rect x="803.22" y="352.50" width="0.8" height="8.30" fill="#f23645" opacity="0.7"/>
<rect x="802.67" y="356.90" width="1.9" height="3.10" fill="#f23645"/>
<rect x="805.21" y="354.80" width="0.8" height="6.00" fill="#089981" opacity="0.7"/>
<rect x="804.66" y="355.60" width="1.9" height="4.40" fill="#089981"/>
<rect x="807.21" y="352.30" width="0.8" height="4.70" fill="#089981" opacity="0.7"/>
<rect x="806.66" y="353.10" width="1.9" height="3.15" fill="#089981"/>
<rect x="809.21" y="346.25" width="0.8" height="7.65" fill="#089981" opacity="0.7"/>
<rect x="808.66" y="350.60" width="1.9" height="2.50" fill="#089981"/>
<rect x="811.21" y="347.50" width="0.8" height="5.20" fill="#f23645" opacity="0.7"/>
<rect x="810.66" y="349.40" width="1.9" height="2.50" fill="#f23645"/>
<rect x="813.20" y="350.50" width="0.8" height="3.40" fill="#f23645" opacity="0.7"/>
<rect x="812.65" y="351.25" width="1.9" height="1.85" fill="#f23645"/>
<rect x="815.20" y="351.10" width="0.8" height="5.90" fill="#f23645" opacity="0.7"/>
<rect x="814.65" y="351.90" width="1.9" height="4.20" fill="#f23645"/>
<rect x="817.20" y="354.70" width="0.8" height="5.70" fill="#f23645" opacity="0.7"/>
<rect x="816.65" y="355.50" width="1.9" height="4.10" fill="#f23645"/>
<rect x="819.20" y="357.80" width="0.8" height="4.20" fill="#f23645" opacity="0.7"/>
<rect x="818.65" y="358.60" width="1.9" height="2.50" fill="#f23645"/>
<rect x="821.20" y="359.10" width="0.8" height="11.40" fill="#f23645" opacity="0.7"/>
<rect x="820.65" y="359.90" width="1.9" height="7.50" fill="#f23645"/>
<rect x="823.19" y="366.10" width="0.8" height="2.80" fill="#f23645" opacity="0.7"/>
<rect x="822.64" y="366.90" width="1.9" height="1.20" fill="#f23645"/>
<rect x="825.19" y="366.90" width="0.8" height="4.40" fill="#f23645" opacity="0.7"/>
<rect x="824.64" y="367.70" width="1.9" height="2.80" fill="#f23645"/>
<rect x="827.19" y="369.10" width="0.8" height="12.00" fill="#f23645" opacity="0.7"/>
<rect x="826.64" y="369.90" width="1.9" height="9.00" fill="#f23645"/>
<rect x="829.19" y="375.30" width="0.8" height="4.40" fill="#089981" opacity="0.7"/>
<rect x="828.64" y="376.10" width="1.9" height="2.80" fill="#089981"/>
<rect x="831.18" y="372.80" width="0.8" height="4.10" fill="#089981" opacity="0.7"/>
<rect x="830.63" y="373.60" width="1.9" height="2.50" fill="#089981"/>
<rect x="833.18" y="369.60" width="0.8" height="4.80" fill="#089981" opacity="0.7"/>
<rect x="832.63" y="372.40" width="1.9" height="1.20" fill="#089981"/>
<rect x="835.18" y="371.90" width="0.8" height="4.10" fill="#f23645" opacity="0.7"/>
<rect x="834.63" y="372.70" width="1.9" height="2.50" fill="#f23645"/>
<rect x="837.18" y="373.30" width="0.8" height="2.70" fill="#089981" opacity="0.7"/>
<rect x="836.63" y="374.10" width="1.9" height="1.10" fill="#089981"/>
<rect x="839.18" y="372.80" width="0.8" height="4.10" fill="#f23645" opacity="0.7"/>
<rect x="838.63" y="373.60" width="1.9" height="2.50" fill="#f23645"/>
<rect x="841.17" y="375.30" width="0.8" height="3.50" fill="#f23645" opacity="0.7"/>
<rect x="840.62" y="376.10" width="1.9" height="1.90" fill="#f23645"/>
<rect x="843.17" y="376.60" width="0.8" height="8.80" fill="#f23645" opacity="0.7"/>
<rect x="842.62" y="377.40" width="1.9" height="4.50" fill="#f23645"/>
<rect x="845.17" y="377.70" width="0.8" height="4.70" fill="#089981" opacity="0.7"/>
<rect x="844.62" y="378.50" width="1.9" height="3.10" fill="#089981"/>
<rect x="847.17" y="376.40" width="0.8" height="2.90" fill="#089981" opacity="0.7"/>
<rect x="846.62" y="377.25" width="1.9" height="1.25" fill="#089981"/>
<rect x="849.17" y="375.20" width="0.8" height="3.50" fill="#089981" opacity="0.7"/>
<rect x="848.62" y="376.00" width="1.9" height="1.90" fill="#089981"/>
<rect x="851.16" y="371.00" width="0.8" height="7.00" fill="#089981" opacity="0.7"/>
<rect x="850.61" y="372.90" width="1.9" height="4.35" fill="#089981"/>
<rect x="853.16" y="369.75" width="0.8" height="5.75" fill="#f23645" opacity="0.7"/>
<rect x="852.61" y="372.90" width="1.9" height="1.85" fill="#f23645"/>
<rect x="855.16" y="372.70" width="0.8" height="2.80" fill="#089981" opacity="0.7"/>
<rect x="854.61" y="373.50" width="1.9" height="1.25" fill="#089981"/>
<rect x="857.16" y="360.40" width="0.8" height="14.50" fill="#089981" opacity="0.7"/>
<rect x="856.61" y="362.90" width="1.9" height="11.20" fill="#089981"/>
<rect x="859.15" y="361.60" width="0.8" height="5.80" fill="#f23645" opacity="0.7"/>
<rect x="858.60" y="362.90" width="1.9" height="3.70" fill="#f23645"/>
<rect x="861.15" y="365.20" width="0.8" height="5.20" fill="#089981" opacity="0.7"/>
<rect x="860.60" y="366.00" width="1.9" height="0.80" fill="#089981"/>
<rect x="863.15" y="365.20" width="0.8" height="2.80" fill="#f23645" opacity="0.7"/>
<rect x="862.60" y="366.00" width="1.9" height="1.25" fill="#f23645"/>
<rect x="865.15" y="362.10" width="0.8" height="5.90" fill="#089981" opacity="0.7"/>
<rect x="864.60" y="362.90" width="1.9" height="4.35" fill="#089981"/>
<rect x="867.15" y="351.60" width="0.8" height="12.10" fill="#089981" opacity="0.7"/>
<rect x="866.60" y="355.40" width="1.9" height="7.50" fill="#089981"/>
<rect x="869.14" y="349.10" width="0.8" height="7.70" fill="#089981" opacity="0.7"/>
<rect x="868.59" y="352.90" width="1.9" height="3.10" fill="#089981"/>
<rect x="871.14" y="352.10" width="0.8" height="7.00" fill="#f23645" opacity="0.7"/>
<rect x="870.59" y="352.90" width="1.9" height="4.35" fill="#f23645"/>
<rect x="873.14" y="356.40" width="0.8" height="2.90" fill="#f23645" opacity="0.7"/>
<rect x="872.59" y="357.25" width="1.9" height="1.25" fill="#f23645"/>
<rect x="875.14" y="354.60" width="0.8" height="5.80" fill="#089981" opacity="0.7"/>
<rect x="874.59" y="355.40" width="1.9" height="3.10" fill="#089981"/>
<rect x="877.13" y="352.70" width="0.8" height="3.50" fill="#089981" opacity="0.7"/>
<rect x="876.58" y="353.50" width="1.9" height="1.90" fill="#089981"/>
<rect x="879.13" y="351.00" width="0.8" height="5.20" fill="#f23645" opacity="0.7"/>
<rect x="878.58" y="353.50" width="1.9" height="1.90" fill="#f23645"/>
<rect x="881.13" y="351.00" width="0.8" height="9.50" fill="#f23645" opacity="0.7"/>
<rect x="880.58" y="354.75" width="1.9" height="5.00" fill="#f23645"/>
<rect x="883.13" y="356.60" width="0.8" height="3.90" fill="#089981" opacity="0.7"/>
<rect x="882.58" y="358.50" width="1.9" height="1.25" fill="#089981"/>
<rect x="885.13" y="357.70" width="0.8" height="2.80" fill="#f23645" opacity="0.7"/>
<rect x="884.58" y="358.50" width="1.9" height="1.25" fill="#f23645"/>
<rect x="887.12" y="356.00" width="0.8" height="5.80" fill="#f23645" opacity="0.7"/>
<rect x="886.57" y="359.10" width="1.9" height="1.90" fill="#f23645"/>
<rect x="889.12" y="359.60" width="0.8" height="7.00" fill="#f23645" opacity="0.7"/>
<rect x="888.57" y="360.40" width="1.9" height="1.85" fill="#f23645"/>
<rect x="891.12" y="360.20" width="0.8" height="3.90" fill="#089981" opacity="0.7"/>
<rect x="890.57" y="361.00" width="1.9" height="1.25" fill="#089981"/>
<rect x="893.12" y="359.10" width="0.8" height="4.60" fill="#f23645" opacity="0.7"/>
<rect x="892.57" y="361.00" width="1.9" height="1.90" fill="#f23645"/>
<rect x="895.11" y="344.00" width="0.8" height="19.70" fill="#089981" opacity="0.7"/>
<rect x="894.56" y="344.75" width="1.9" height="18.15" fill="#089981"/>
<rect x="897.11" y="314.80" width="0.8" height="31.40" fill="#089981" opacity="0.7"/>
<rect x="896.56" y="315.60" width="1.9" height="29.80" fill="#089981"/>
<rect x="899.11" y="302.50" width="0.8" height="26.25" fill="#f23645" opacity="0.7"/>
<rect x="898.56" y="315.60" width="1.9" height="6.30" fill="#f23645"/>
<rect x="901.11" y="306.25" width="0.8" height="16.45" fill="#089981" opacity="0.7"/>
<rect x="900.56" y="312.50" width="1.9" height="9.40" fill="#089981"/>
<rect x="903.11" y="308.75" width="0.8" height="9.35" fill="#f23645" opacity="0.7"/>
<rect x="902.56" y="311.25" width="1.9" height="1.85" fill="#f23645"/>
<rect x="905.10" y="293.75" width="0.8" height="25.00" fill="#089981" opacity="0.7"/>
<rect x="904.55" y="300.60" width="1.9" height="12.50" fill="#089981"/>
<rect x="907.10" y="299.80" width="0.8" height="17.70" fill="#f23645" opacity="0.7"/>
<rect x="906.55" y="300.60" width="1.9" height="13.15" fill="#f23645"/>
<rect x="909.10" y="311.70" width="0.8" height="7.70" fill="#089981" opacity="0.7"/>
<rect x="908.55" y="312.50" width="1.9" height="1.90" fill="#089981"/>
<rect x="911.10" y="310.00" width="0.8" height="10.00" fill="#f23645" opacity="0.7"/>
<rect x="910.55" y="313.10" width="1.9" height="2.50" fill="#f23645"/>
</g>
<line x1="273.2" y1="292.0" x2="976" y2="292.0" stroke="#f23645" stroke-width="1.7" opacity="0.8"/>
<g stroke="#242424" stroke-width="1.5" stroke-linecap="butt">
<line x1="7.7" y1="126.8" x2="574.1" y2="319.3"/>
<line x1="0" y1="208.7" x2="504" y2="371.2"/>
</g>
<g id="hdr">
<circle cx="13.1" cy="7.3" r="4.3" fill="#20a69c"/>
<path d="M12.6 6 H15 L14 8.4 H13.3 Z" fill="#c9ebe6"/>
<circle cx="8.65" cy="12.1" r="5.3" fill="#fff"/>
<circle cx="8.65" cy="12.1" r="4.4" fill="#0d0d0f"/>
<path d="M6.8 10.8 L7.5 11.3 H9.8 L10.5 10.8 L10.2 12.4 L9.5 13.8 H7.8 L7.1 12.4 Z" fill="#e4e4e4"/>
<g font-size="11.2" fill="#2a2e39" stroke="#2a2e39" stroke-width="0.25">
<text x="20.9" y="14.1" textLength="26.8" lengthAdjust="spacingAndGlyphs">DOGS</text>
<text x="53.4" y="14.1" textLength="3.6" lengthAdjust="spacingAndGlyphs">/</text>
<text x="61.5" y="14.1" textLength="44.9" lengthAdjust="spacingAndGlyphs">TetherUS</text>
<text x="110" y="14.1" textLength="2.6" lengthAdjust="spacingAndGlyphs">·</text>
<text x="116.2" y="14.1" textLength="10.8" lengthAdjust="spacingAndGlyphs">4h</text>
<text x="130.8" y="14.1" textLength="2.6" lengthAdjust="spacingAndGlyphs">·</text>
<text x="137.3" y="14.1" textLength="43.4" lengthAdjust="spacingAndGlyphs">BINANCE</text>
</g>
<circle cx="198.2" cy="9.8" r="6" fill="#d8efeb"/><circle cx="198.2" cy="9.8" r="2.9" fill="#089981"/>
<text x="216.4" y="13.3" font-size="9.2" fill="#42464f">O</text>
<text x="223.4" y="13.3" font-size="9.2" fill="#f23645" textLength="42.1" lengthAdjust="spacingAndGlyphs">0.0007498</text>
<text x="270.6" y="13.3" font-size="9.2" fill="#42464f">H</text>
<text x="277.5" y="13.3" font-size="9.2" fill="#f23645" textLength="42.5" lengthAdjust="spacingAndGlyphs">0.0007613</text>
<text x="324.4" y="13.3" font-size="9.2" fill="#42464f">L</text>
<text x="329.6" y="13.3" font-size="9.2" fill="#f23645" textLength="42.9" lengthAdjust="spacingAndGlyphs">0.0007215</text>
<text x="377.0" y="13.3" font-size="9.2" fill="#42464f">C</text>
<text x="383.4" y="13.3" font-size="9.2" fill="#f23645" textLength="42.4" lengthAdjust="spacingAndGlyphs">0.0007424</text>
<text x="431.3" y="13.3" font-size="9.2" fill="#f23645" textLength="85" lengthAdjust="spacingAndGlyphs">−0.0000075 (−1.00%)</text>
<rect x="3.9" y="21.4" width="58.4" height="24.2" rx="3.2" fill="#fff" stroke="#f6666f" stroke-width="0.9"/>
<text x="33.1" y="32.2" font-size="9" font-weight="bold" fill="#f23645" text-anchor="middle">0.0007424</text>
<text x="24.7" y="41.8" font-size="8.6" fill="#f23645" textLength="16.3" lengthAdjust="spacingAndGlyphs">SELL</text>
<text x="85.2" y="36.3" font-size="7.5" fill="#42464f" text-anchor="middle">0.0000001</text>
<rect x="107.4" y="21.4" width="59" height="24.2" rx="3.2" fill="#fff" stroke="#5b86f7" stroke-width="0.9"/>
<text x="136.9" y="32.2" font-size="9" font-weight="bold" fill="#2962ff" text-anchor="middle">0.0007425</text>
<text x="129.7" y="41.8" font-size="8.6" fill="#2962ff" textLength="14.4" lengthAdjust="spacingAndGlyphs">BUY</text>
<text x="4.3" y="60.8" font-size="9.2" fill="#42464f" textLength="11.4" lengthAdjust="spacingAndGlyphs">Vol</text>
<text x="20.2" y="60.8" font-size="9.2" fill="#42464f">·</text>
<text x="26" y="60.8" font-size="9.2" fill="#42464f" textLength="22.3" lengthAdjust="spacingAndGlyphs">DOGS</text>
<text x="55.1" y="60.8" font-size="9.2" fill="#f05a62" textLength="33.8" lengthAdjust="spacingAndGlyphs">18.445 B</text>
<rect x="4.4" y="67.4" width="20" height="15" rx="2.2" fill="#fff" fill-opacity="0.85" stroke="#e3e5ea" stroke-width="0.8"/>
<path d="M11.4 76.2 L14.2 73.4 L17 76.2" fill="none" stroke="#42464f" stroke-width="1.1"/>
</g>
<rect x="976.5" y="0" width="48" height="440" fill="#fff"/>
<g font-size="9.1" fill="#363a45" stroke="#363a45" stroke-width="0.15">
<text x="981.8" y="43.12" textLength="40" lengthAdjust="spacingAndGlyphs">0.0018000</text>
<text x="981.8" y="69.11" textLength="40" lengthAdjust="spacingAndGlyphs">0.0017000</text>
<text x="981.8" y="95.10" textLength="40" lengthAdjust="spacingAndGlyphs">0.0016000</text>
<text x="981.8" y="121.09" textLength="40" lengthAdjust="spacingAndGlyphs">0.0015000</text>
<text x="981.8" y="147.08" textLength="40" lengthAdjust="spacingAndGlyphs">0.0014000</text>
<text x="981.8" y="173.07" textLength="40" lengthAdjust="spacingAndGlyphs">0.0013000</text>
<text x="981.8" y="199.06" textLength="40" lengthAdjust="spacingAndGlyphs">0.0012000</text>
<text x="981.8" y="225.05" textLength="40" lengthAdjust="spacingAndGlyphs">0.0011000</text>
<text x="981.8" y="251.04" textLength="40" lengthAdjust="spacingAndGlyphs">0.0010000</text>
<text x="981.8" y="277.03" textLength="40" lengthAdjust="spacingAndGlyphs">0.0009000</text>
<text x="981.8" y="303.02" textLength="40" lengthAdjust="spacingAndGlyphs">0.0008000</text>
<text x="981.8" y="329.01" textLength="40" lengthAdjust="spacingAndGlyphs">0.0007000</text>
<text x="981.8" y="355.00" textLength="40" lengthAdjust="spacingAndGlyphs">0.0006000</text>
<text x="981.8" y="380.99" textLength="40" lengthAdjust="spacingAndGlyphs">0.0005000</text>
<text x="981.8" y="406.98" textLength="40" lengthAdjust="spacingAndGlyphs">0.0004000</text>
</g>
<rect x="978.4" y="1.3" width="52" height="18" rx="2.5" fill="#fff" stroke="#e6e8ee" stroke-width="0.9"/>
<text x="981.7" y="13.6" font-size="8.4" fill="#3a3e4a" textLength="18.8" lengthAdjust="spacingAndGlyphs">USDT</text>
<path d="M1018.7 9.3 L1020.5 11.1 L1022.3 9.3" fill="none" stroke="#2a2e39" stroke-width="1"/>
<rect x="976.2" y="286.4" width="48" height="11.7" fill="#f23645"/>
<text x="981.8" y="295.1" font-size="9.1" fill="#fff" textLength="40" lengthAdjust="spacingAndGlyphs">0.0008300</text>
<rect x="976.2" y="309.7" width="48" height="22" fill="#f23645"/>
<text x="981.8" y="318.3" font-size="9.1" fill="#fff" textLength="40" lengthAdjust="spacingAndGlyphs">0.0007424</text>
<text x="981.8" y="329.2" font-size="8.6" fill="#fff" opacity="0.9">01:42:14</text>
<rect x="976.2" y="406.1" width="42" height="11.8" fill="#ef5350"/>
<text x="983.2" y="415.2" font-size="9" fill="#fff" textLength="31.5" lengthAdjust="spacingAndGlyphs" stroke="#fff" stroke-width="0.2">18.445 B</text>
<g id="tv">
<g stroke="#fff" stroke-width="2.2" stroke-linejoin="round" fill="#fff">
<path d="M6.3 399.8 H14.7 V410.1 H10.3 V404.2 H6.3 Z"/><circle cx="18.4" cy="401.7" r="1.95"/><path d="M22.3 399.8 H27.7 L24.2 410.1 H19.1 Z"/>
<text x="33.1" y="410.2" font-size="14.4" font-weight="bold" textLength="86.5" lengthAdjust="spacingAndGlyphs">TradingView</text>
</g>
<g fill="#131722">
<path d="M6.3 399.8 H14.7 V410.1 H10.3 V404.2 H6.3 Z"/><circle cx="18.4" cy="401.7" r="1.95"/><path d="M22.3 399.8 H27.7 L24.2 410.1 H19.1 Z"/>
<text x="33.1" y="410.2" font-size="14.4" font-weight="bold" textLength="86.5" lengthAdjust="spacingAndGlyphs">TradingView</text>
</g></g>
<circle cx="912.1" cy="410.8" r="7.2" fill="#fff" stroke="#9c27b0" stroke-width="1.3"/>
<path d="M914.3 406.8 L908.9 411.7 L911.9 411.7 L909.9 414.9 L915.3 410 L912.3 410 Z" fill="#9c27b0"/>
<rect x="0" y="421.2" width="976" height="20" fill="#fff"/>
<g font-size="8.8" fill="#42464f" text-anchor="middle">
<text x="6.1" y="434">27</text>
<text x="66.2" y="434" fill="#2a2e39" stroke="#2a2e39" stroke-width="0.3">Sep</text>
<text x="162" y="434">9</text>
<text x="245.7" y="434">16</text>
<text x="329.6" y="434">23</text>
<text x="426" y="434" fill="#2a2e39" stroke="#2a2e39" stroke-width="0.3">Oct</text>
<text x="497.8" y="434">7</text>
<text x="582" y="434">14</text>
<text x="665.6" y="434">21</text>
<text x="725.6" y="434">26</text>
<text x="797.3" y="434" fill="#2a2e39" stroke="#2a2e39" stroke-width="0.3">Nov</text>
<text x="857.4" y="434">6</text>
<text x="917.4" y="434">11</text>
</g>
<path d="M1002.8 425.8 L1007.3 428.3 L1007.3 433.4 L1002.8 435.9 L998.3 433.4 L998.3 428.3 Z" fill="none" stroke="#42464f" stroke-width="1" stroke-linejoin="round"/><circle cx="1002.8" cy="430.85" r="1.7" fill="none" stroke="#42464f" stroke-width="0.9"/>
<line x1="0" y1="440.4" x2="1024" y2="440.4" stroke="#e4e7ee" stroke-width="1"/>
<g font-size="10.2" fill="#2a2e39" stroke="#2a2e39" stroke-width="0.3">
<text x="8.4" y="458" textLength="10.9" lengthAdjust="spacingAndGlyphs">1D</text>
<text x="28.4" y="458" textLength="10.9" lengthAdjust="spacingAndGlyphs">5D</text>
<text x="48.9" y="458" textLength="12.1" lengthAdjust="spacingAndGlyphs">1M</text>
<text x="69.8" y="458" textLength="12.2" lengthAdjust="spacingAndGlyphs">3M</text>
<text x="90.3" y="458" textLength="12.6" lengthAdjust="spacingAndGlyphs">6M</text>
<text x="112" y="458" textLength="17.2" lengthAdjust="spacingAndGlyphs">YTD</text>
<text x="138.1" y="458" textLength="10.6" lengthAdjust="spacingAndGlyphs">1Y</text>
<text x="157.7" y="458" textLength="10.6" lengthAdjust="spacingAndGlyphs">5Y</text>
<text x="177.2" y="458" textLength="11.8" lengthAdjust="spacingAndGlyphs">All</text>
</g>
<line x1="196.4" y1="446" x2="196.4" y2="462.5" stroke="#e6e8ee" stroke-width="1"/>
<g fill="none" stroke="#2a2e39" stroke-width="1">
<path d="M207.7 453 V450.4 Q207.7 449 209.1 449 H218.4 Q219.8 449 219.8 450.4 V458 Q219.8 459.4 218.4 459.4 H214.3"/>
<path d="M207.7 451.8 H219.8 M210.6 447.4 V450 M216.9 447.4 V450"/>
<path d="M206.3 456.6 H212 M209.9 454.4 L212.1 456.6 L209.9 458.8"/>
</g>
<text x="954.3" y="458" font-size="10" fill="#2a2e39" textLength="67.4" lengthAdjust="spacingAndGlyphs" stroke="#2a2e39" stroke-width="0.4">14:17:45 (UTC)</text>
</svg></body></html>
